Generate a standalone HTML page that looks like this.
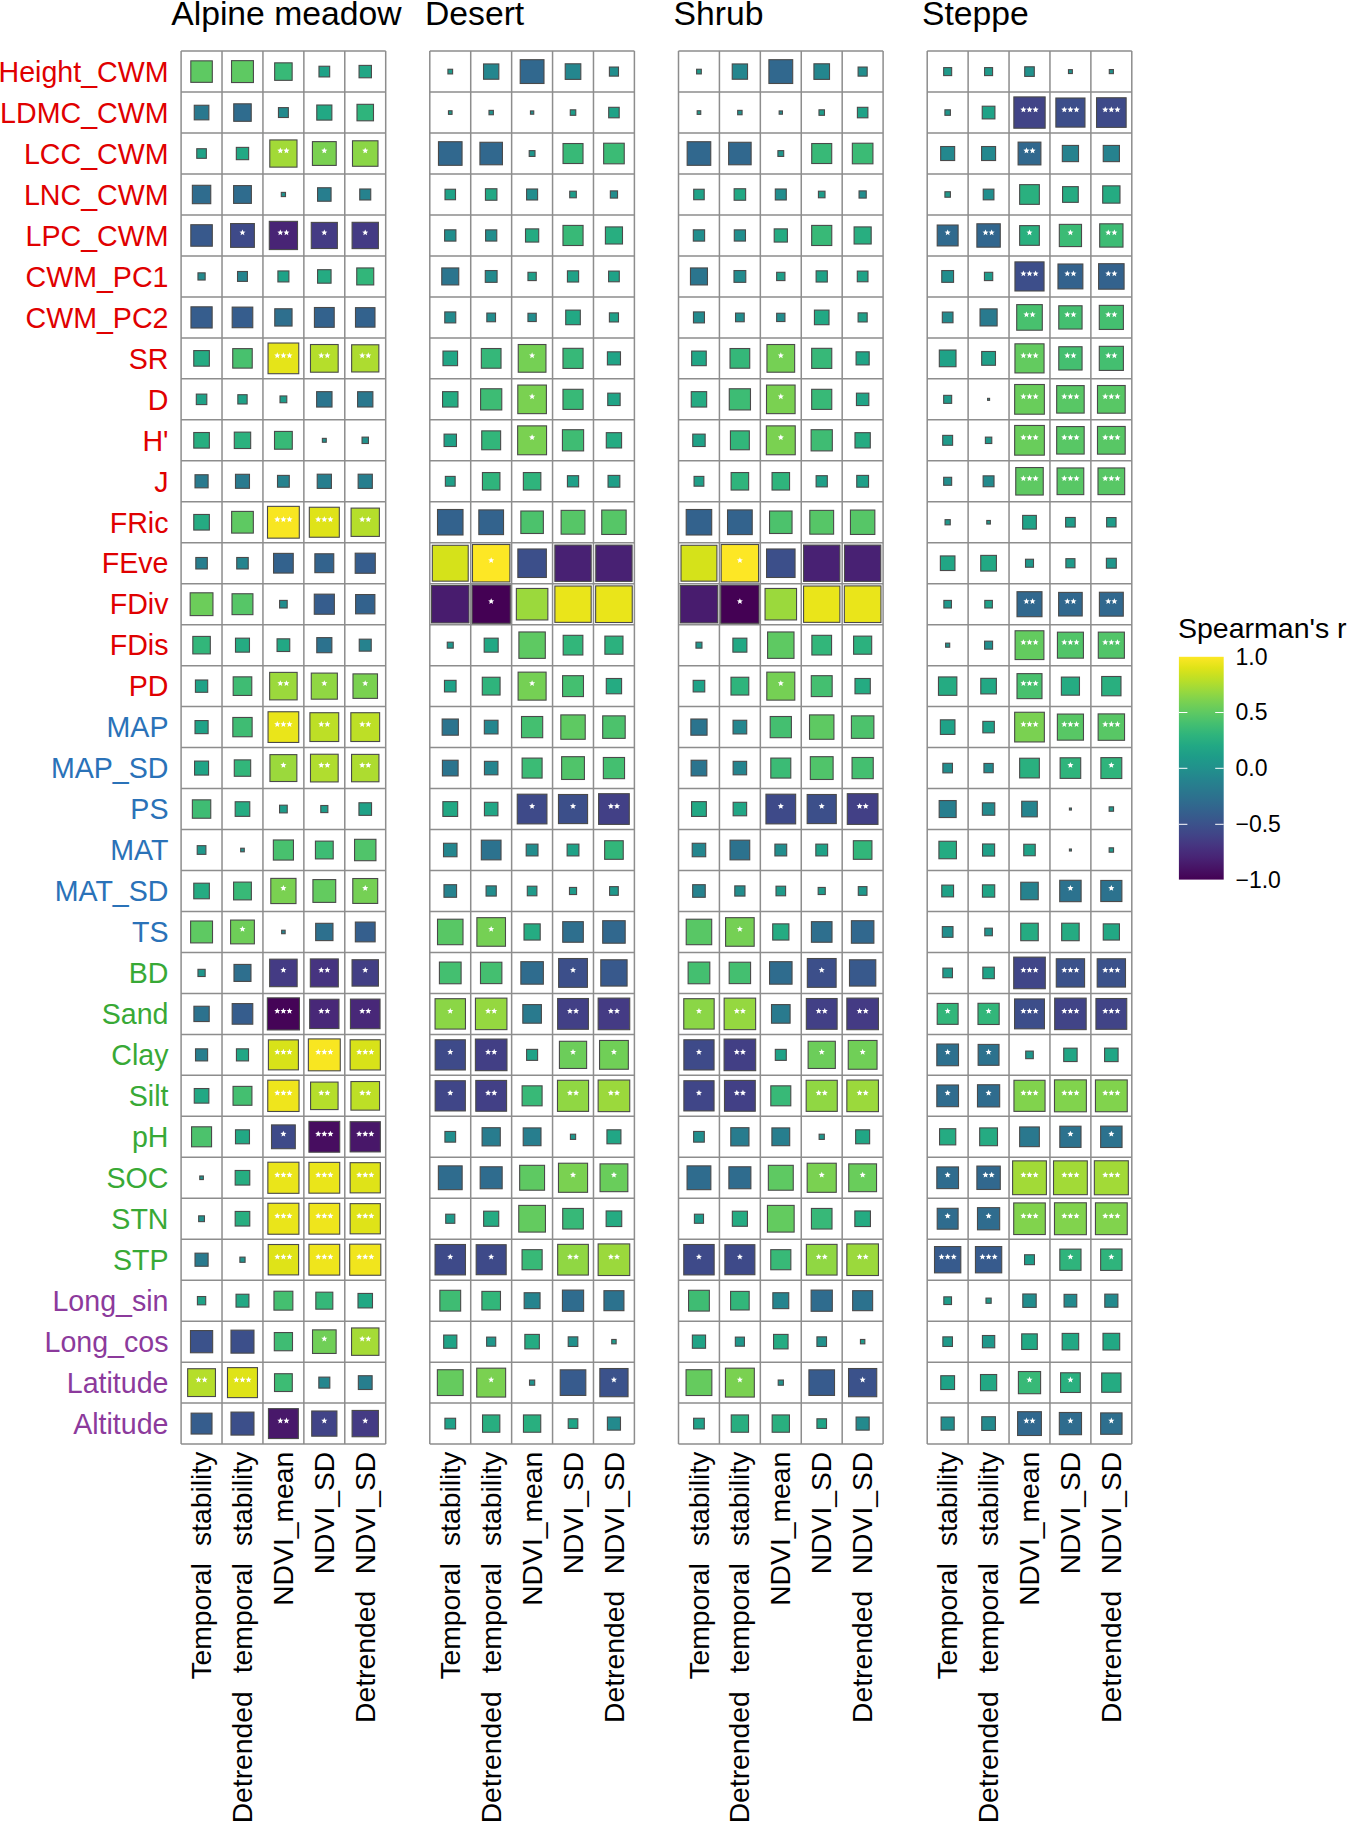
<!DOCTYPE html><html><head><meta charset="utf-8"><style>html,body{margin:0;padding:0;background:#fff;}svg{display:block;}text{font-family:"Liberation Sans",sans-serif;}</style></head><body>
<svg width="1348" height="1822" viewBox="0 0 1348 1822">
<rect width="1348" height="1822" fill="#fff"/>
<defs><linearGradient id="vg" x1="0" y1="1" x2="0" y2="0">
<stop offset="0.000" stop-color="#440154"/>
<stop offset="0.050" stop-color="#471365"/>
<stop offset="0.100" stop-color="#482475"/>
<stop offset="0.150" stop-color="#463480"/>
<stop offset="0.200" stop-color="#414487"/>
<stop offset="0.250" stop-color="#3b528b"/>
<stop offset="0.300" stop-color="#355f8d"/>
<stop offset="0.350" stop-color="#2f6c8e"/>
<stop offset="0.400" stop-color="#2a788e"/>
<stop offset="0.450" stop-color="#25848e"/>
<stop offset="0.500" stop-color="#21918c"/>
<stop offset="0.550" stop-color="#1e9c89"/>
<stop offset="0.600" stop-color="#22a884"/>
<stop offset="0.650" stop-color="#2fb47c"/>
<stop offset="0.700" stop-color="#44bf70"/>
<stop offset="0.750" stop-color="#5ec962"/>
<stop offset="0.800" stop-color="#7ad151"/>
<stop offset="0.850" stop-color="#9bd93c"/>
<stop offset="0.900" stop-color="#bddf26"/>
<stop offset="0.950" stop-color="#dfe318"/>
<stop offset="1.000" stop-color="#fde725"/>
</linearGradient>
<path id="st" d="M0.00,-3.20 L0.85,-1.16 L3.04,-0.99 L1.37,0.44 L1.88,2.59 L0.00,1.44 L-1.88,2.59 L-1.37,0.44 L-3.04,-0.99 L-0.85,-1.16Z" fill="#fff"/>
</defs>
<text x="171.2" y="25" font-size="33.7" fill="#000">Alpine meadow</text>
<text x="425.0" y="25" font-size="33.7" fill="#000">Desert</text>
<text x="673.6" y="25" font-size="33.7" fill="#000">Shrub</text>
<text x="922.0" y="25" font-size="33.7" fill="#000">Steppe</text>
<g font-size="28.6" text-anchor="end">
<text x="168.5" y="81.8" fill="#e00000">Height_CWM</text>
<text x="168.5" y="122.8" fill="#e00000">LDMC_CWM</text>
<text x="168.5" y="163.7" fill="#e00000">LCC_CWM</text>
<text x="168.5" y="204.7" fill="#e00000">LNC_CWM</text>
<text x="168.5" y="245.7" fill="#e00000">LPC_CWM</text>
<text x="168.5" y="286.6" fill="#e00000">CWM_PC1</text>
<text x="168.5" y="327.6" fill="#e00000">CWM_PC2</text>
<text x="168.5" y="368.6" fill="#e00000">SR</text>
<text x="168.5" y="409.5" fill="#e00000">D</text>
<text x="168.5" y="450.5" fill="#e00000">H'</text>
<text x="168.5" y="491.5" fill="#e00000">J</text>
<text x="168.5" y="532.5" fill="#e00000">FRic</text>
<text x="168.5" y="573.4" fill="#e00000">FEve</text>
<text x="168.5" y="614.4" fill="#e00000">FDiv</text>
<text x="168.5" y="655.4" fill="#e00000">FDis</text>
<text x="168.5" y="696.3" fill="#e00000">PD</text>
<text x="168.5" y="737.3" fill="#2a72b8">MAP</text>
<text x="168.5" y="778.3" fill="#2a72b8">MAP_SD</text>
<text x="168.5" y="819.2" fill="#2a72b8">PS</text>
<text x="168.5" y="860.2" fill="#2a72b8">MAT</text>
<text x="168.5" y="901.2" fill="#2a72b8">MAT_SD</text>
<text x="168.5" y="942.2" fill="#2a72b8">TS</text>
<text x="168.5" y="983.1" fill="#38a936">BD</text>
<text x="168.5" y="1024.1" fill="#38a936">Sand</text>
<text x="168.5" y="1065.1" fill="#38a936">Clay</text>
<text x="168.5" y="1106.0" fill="#38a936">Silt</text>
<text x="168.5" y="1147.0" fill="#38a936">pH</text>
<text x="168.5" y="1188.0" fill="#38a936">SOC</text>
<text x="168.5" y="1228.9" fill="#38a936">STN</text>
<text x="168.5" y="1269.9" fill="#38a936">STP</text>
<text x="168.5" y="1310.9" fill="#8c3a9c">Long_sin</text>
<text x="168.5" y="1351.9" fill="#8c3a9c">Long_cos</text>
<text x="168.5" y="1392.8" fill="#8c3a9c">Latitude</text>
<text x="168.5" y="1433.8" fill="#8c3a9c">Altitude</text>
</g>
<path d="M181.10 51.10V1444.08M222.02 51.10V1444.08M262.94 51.10V1444.08M303.86 51.10V1444.08M344.78 51.10V1444.08M385.70 51.10V1444.08M181.10 51.10H385.70M181.10 92.07H385.70M181.10 133.04H385.70M181.10 174.01H385.70M181.10 214.98H385.70M181.10 255.95H385.70M181.10 296.92H385.70M181.10 337.89H385.70M181.10 378.86H385.70M181.10 419.83H385.70M181.10 460.80H385.70M181.10 501.77H385.70M181.10 542.74H385.70M181.10 583.71H385.70M181.10 624.68H385.70M181.10 665.65H385.70M181.10 706.62H385.70M181.10 747.59H385.70M181.10 788.56H385.70M181.10 829.53H385.70M181.10 870.50H385.70M181.10 911.47H385.70M181.10 952.44H385.70M181.10 993.41H385.70M181.10 1034.38H385.70M181.10 1075.35H385.70M181.10 1116.32H385.70M181.10 1157.29H385.70M181.10 1198.26H385.70M181.10 1239.23H385.70M181.10 1280.20H385.70M181.10 1321.17H385.70M181.10 1362.14H385.70M181.10 1403.11H385.70M181.10 1444.08H385.70" stroke="#8d8d8d" stroke-width="1.5" fill="none"/>
<rect x="190.81" y="60.84" width="21.50" height="21.50" fill="#5ec962" stroke="#4a4a4a" stroke-width="1.1"/>
<rect x="231.53" y="60.64" width="21.90" height="21.90" fill="#5ec962" stroke="#4a4a4a" stroke-width="1.1"/>
<rect x="274.65" y="62.84" width="17.50" height="17.50" fill="#38b977" stroke="#4a4a4a" stroke-width="1.1"/>
<rect x="318.97" y="66.24" width="10.70" height="10.70" fill="#1fa287" stroke="#4a4a4a" stroke-width="1.1"/>
<rect x="359.04" y="65.39" width="12.40" height="12.40" fill="#21a685" stroke="#4a4a4a" stroke-width="1.1"/>
<rect x="194.26" y="105.26" width="14.60" height="14.60" fill="#2a788e" stroke="#4a4a4a" stroke-width="1.1"/>
<rect x="233.73" y="103.81" width="17.50" height="17.50" fill="#2f6c8e" stroke="#4a4a4a" stroke-width="1.1"/>
<rect x="278.45" y="107.61" width="9.90" height="9.90" fill="#238a8d" stroke="#4a4a4a" stroke-width="1.1"/>
<rect x="316.77" y="105.01" width="15.10" height="15.10" fill="#22a884" stroke="#4a4a4a" stroke-width="1.1"/>
<rect x="356.99" y="104.31" width="16.50" height="16.50" fill="#2fb47c" stroke="#4a4a4a" stroke-width="1.1"/>
<rect x="196.76" y="148.72" width="9.60" height="9.60" fill="#1fa287" stroke="#4a4a4a" stroke-width="1.1"/>
<rect x="236.33" y="147.38" width="12.30" height="12.30" fill="#22a884" stroke="#4a4a4a" stroke-width="1.1"/>
<rect x="269.80" y="139.93" width="27.20" height="27.20" fill="#a2da37" stroke="#4a4a4a" stroke-width="1.1"/>
<use href="#st" x="280.35" y="150.72"/>
<use href="#st" x="286.45" y="150.72"/>
<rect x="312.42" y="141.62" width="23.80" height="23.80" fill="#7ad151" stroke="#4a4a4a" stroke-width="1.1"/>
<use href="#st" x="324.32" y="150.72"/>
<rect x="352.49" y="140.78" width="25.50" height="25.50" fill="#8bd646" stroke="#4a4a4a" stroke-width="1.1"/>
<use href="#st" x="365.24" y="150.72"/>
<rect x="192.36" y="185.29" width="18.40" height="18.40" fill="#2f6c8e" stroke="#4a4a4a" stroke-width="1.1"/>
<rect x="233.58" y="185.59" width="17.80" height="17.80" fill="#2f6c8e" stroke="#4a4a4a" stroke-width="1.1"/>
<rect x="281.30" y="192.39" width="4.20" height="4.20" fill="#21918c" stroke="#4a4a4a" stroke-width="1.1"/>
<rect x="317.57" y="187.74" width="13.50" height="13.50" fill="#277e8e" stroke="#4a4a4a" stroke-width="1.1"/>
<rect x="359.74" y="188.99" width="11.00" height="11.00" fill="#26828e" stroke="#4a4a4a" stroke-width="1.1"/>
<rect x="190.81" y="224.72" width="21.50" height="21.50" fill="#38598c" stroke="#4a4a4a" stroke-width="1.1"/>
<rect x="230.58" y="223.56" width="23.80" height="23.80" fill="#3e4a89" stroke="#4a4a4a" stroke-width="1.1"/>
<use href="#st" x="242.48" y="232.66"/>
<rect x="269.30" y="221.37" width="28.20" height="28.20" fill="#482475" stroke="#4a4a4a" stroke-width="1.1"/>
<use href="#st" x="280.35" y="232.66"/>
<use href="#st" x="286.45" y="232.66"/>
<rect x="311.27" y="222.41" width="26.10" height="26.10" fill="#443b84" stroke="#4a4a4a" stroke-width="1.1"/>
<use href="#st" x="324.32" y="232.66"/>
<rect x="352.09" y="222.31" width="26.30" height="26.30" fill="#443b84" stroke="#4a4a4a" stroke-width="1.1"/>
<use href="#st" x="365.24" y="232.66"/>
<rect x="197.96" y="272.83" width="7.20" height="7.20" fill="#238a8d" stroke="#4a4a4a" stroke-width="1.1"/>
<rect x="237.53" y="271.49" width="9.90" height="9.90" fill="#25848e" stroke="#4a4a4a" stroke-width="1.1"/>
<rect x="277.90" y="270.94" width="11.00" height="11.00" fill="#1fa287" stroke="#4a4a4a" stroke-width="1.1"/>
<rect x="317.57" y="269.69" width="13.50" height="13.50" fill="#25ab82" stroke="#4a4a4a" stroke-width="1.1"/>
<rect x="356.74" y="267.94" width="17.00" height="17.00" fill="#32b67a" stroke="#4a4a4a" stroke-width="1.1"/>
<rect x="190.96" y="306.81" width="21.20" height="21.20" fill="#365d8d" stroke="#4a4a4a" stroke-width="1.1"/>
<rect x="232.18" y="307.11" width="20.60" height="20.60" fill="#365d8d" stroke="#4a4a4a" stroke-width="1.1"/>
<rect x="274.75" y="308.76" width="17.30" height="17.30" fill="#2e6f8e" stroke="#4a4a4a" stroke-width="1.1"/>
<rect x="314.42" y="307.51" width="19.80" height="19.80" fill="#33628d" stroke="#4a4a4a" stroke-width="1.1"/>
<rect x="355.49" y="307.66" width="19.50" height="19.50" fill="#33628d" stroke="#4a4a4a" stroke-width="1.1"/>
<rect x="193.76" y="350.57" width="15.60" height="15.60" fill="#25ab82" stroke="#4a4a4a" stroke-width="1.1"/>
<rect x="232.73" y="348.62" width="19.50" height="19.50" fill="#48c16e" stroke="#4a4a4a" stroke-width="1.1"/>
<rect x="268.05" y="343.02" width="30.70" height="30.70" fill="#e5e419" stroke="#4a4a4a" stroke-width="1.1"/>
<use href="#st" x="277.30" y="355.57"/>
<use href="#st" x="283.40" y="355.57"/>
<use href="#st" x="289.50" y="355.57"/>
<rect x="310.47" y="344.52" width="27.70" height="27.70" fill="#b5de2b" stroke="#4a4a4a" stroke-width="1.1"/>
<use href="#st" x="321.27" y="355.57"/>
<use href="#st" x="327.37" y="355.57"/>
<rect x="351.64" y="344.77" width="27.20" height="27.20" fill="#addc30" stroke="#4a4a4a" stroke-width="1.1"/>
<use href="#st" x="362.19" y="355.57"/>
<use href="#st" x="368.29" y="355.57"/>
<rect x="196.31" y="394.10" width="10.50" height="10.50" fill="#1fa287" stroke="#4a4a4a" stroke-width="1.1"/>
<rect x="237.83" y="394.70" width="9.30" height="9.30" fill="#1fa287" stroke="#4a4a4a" stroke-width="1.1"/>
<rect x="280.00" y="395.95" width="6.80" height="6.80" fill="#1e9c89" stroke="#4a4a4a" stroke-width="1.1"/>
<rect x="316.62" y="391.65" width="15.40" height="15.40" fill="#2b758e" stroke="#4a4a4a" stroke-width="1.1"/>
<rect x="357.59" y="391.70" width="15.30" height="15.30" fill="#2a788e" stroke="#4a4a4a" stroke-width="1.1"/>
<rect x="193.76" y="432.51" width="15.60" height="15.60" fill="#28ae80" stroke="#4a4a4a" stroke-width="1.1"/>
<rect x="234.28" y="432.12" width="16.40" height="16.40" fill="#2cb17e" stroke="#4a4a4a" stroke-width="1.1"/>
<rect x="274.50" y="431.42" width="17.80" height="17.80" fill="#38b977" stroke="#4a4a4a" stroke-width="1.1"/>
<rect x="322.37" y="438.37" width="3.90" height="3.90" fill="#20928c" stroke="#4a4a4a" stroke-width="1.1"/>
<rect x="362.04" y="437.12" width="6.40" height="6.40" fill="#21918c" stroke="#4a4a4a" stroke-width="1.1"/>
<rect x="195.01" y="474.74" width="13.10" height="13.10" fill="#297a8e" stroke="#4a4a4a" stroke-width="1.1"/>
<rect x="235.48" y="474.29" width="14.00" height="14.00" fill="#297a8e" stroke="#4a4a4a" stroke-width="1.1"/>
<rect x="277.50" y="475.39" width="11.80" height="11.80" fill="#26828e" stroke="#4a4a4a" stroke-width="1.1"/>
<rect x="317.22" y="474.19" width="14.20" height="14.20" fill="#277e8e" stroke="#4a4a4a" stroke-width="1.1"/>
<rect x="358.14" y="474.19" width="14.20" height="14.20" fill="#277e8e" stroke="#4a4a4a" stroke-width="1.1"/>
<rect x="193.76" y="514.46" width="15.60" height="15.60" fill="#25ab82" stroke="#4a4a4a" stroke-width="1.1"/>
<rect x="231.63" y="511.40" width="21.70" height="21.70" fill="#5ec962" stroke="#4a4a4a" stroke-width="1.1"/>
<rect x="267.50" y="506.36" width="31.80" height="31.80" fill="#f8e621" stroke="#4a4a4a" stroke-width="1.1"/>
<use href="#st" x="277.30" y="519.46"/>
<use href="#st" x="283.40" y="519.46"/>
<use href="#st" x="289.50" y="519.46"/>
<rect x="309.32" y="507.25" width="30.00" height="30.00" fill="#dfe318" stroke="#4a4a4a" stroke-width="1.1"/>
<use href="#st" x="318.22" y="519.46"/>
<use href="#st" x="324.32" y="519.46"/>
<use href="#st" x="330.42" y="519.46"/>
<rect x="351.09" y="508.11" width="28.30" height="28.30" fill="#b5de2b" stroke="#4a4a4a" stroke-width="1.1"/>
<use href="#st" x="362.19" y="519.46"/>
<use href="#st" x="368.29" y="519.46"/>
<rect x="195.81" y="557.48" width="11.50" height="11.50" fill="#277e8e" stroke="#4a4a4a" stroke-width="1.1"/>
<rect x="236.73" y="557.48" width="11.50" height="11.50" fill="#25848e" stroke="#4a4a4a" stroke-width="1.1"/>
<rect x="273.55" y="553.38" width="19.70" height="19.70" fill="#33628d" stroke="#4a4a4a" stroke-width="1.1"/>
<rect x="314.87" y="553.77" width="18.90" height="18.90" fill="#33638d" stroke="#4a4a4a" stroke-width="1.1"/>
<rect x="355.19" y="553.18" width="20.10" height="20.10" fill="#365d8d" stroke="#4a4a4a" stroke-width="1.1"/>
<rect x="190.16" y="592.80" width="22.80" height="22.80" fill="#6ccd5a" stroke="#4a4a4a" stroke-width="1.1"/>
<rect x="232.03" y="593.75" width="20.90" height="20.90" fill="#56c667" stroke="#4a4a4a" stroke-width="1.1"/>
<rect x="279.60" y="600.40" width="7.60" height="7.60" fill="#228d8d" stroke="#4a4a4a" stroke-width="1.1"/>
<rect x="314.27" y="594.15" width="20.10" height="20.10" fill="#365d8d" stroke="#4a4a4a" stroke-width="1.1"/>
<rect x="355.59" y="594.55" width="19.30" height="19.30" fill="#33628d" stroke="#4a4a4a" stroke-width="1.1"/>
<rect x="192.81" y="636.41" width="17.50" height="17.50" fill="#32b67a" stroke="#4a4a4a" stroke-width="1.1"/>
<rect x="235.48" y="638.16" width="14.00" height="14.00" fill="#25ab82" stroke="#4a4a4a" stroke-width="1.1"/>
<rect x="277.05" y="638.81" width="12.70" height="12.70" fill="#22a884" stroke="#4a4a4a" stroke-width="1.1"/>
<rect x="316.77" y="637.62" width="15.10" height="15.10" fill="#2c728e" stroke="#4a4a4a" stroke-width="1.1"/>
<rect x="359.24" y="639.16" width="12.00" height="12.00" fill="#26828e" stroke="#4a4a4a" stroke-width="1.1"/>
<rect x="195.41" y="679.99" width="12.30" height="12.30" fill="#1fa287" stroke="#4a4a4a" stroke-width="1.1"/>
<rect x="233.18" y="676.84" width="18.60" height="18.60" fill="#3fbc73" stroke="#4a4a4a" stroke-width="1.1"/>
<rect x="269.65" y="672.38" width="27.50" height="27.50" fill="#9bd93c" stroke="#4a4a4a" stroke-width="1.1"/>
<use href="#st" x="280.35" y="683.34"/>
<use href="#st" x="286.45" y="683.34"/>
<rect x="311.27" y="673.09" width="26.10" height="26.10" fill="#90d743" stroke="#4a4a4a" stroke-width="1.1"/>
<use href="#st" x="324.32" y="683.34"/>
<rect x="352.99" y="673.88" width="24.50" height="24.50" fill="#7ad151" stroke="#4a4a4a" stroke-width="1.1"/>
<use href="#st" x="365.24" y="683.34"/>
<rect x="195.01" y="720.56" width="13.10" height="13.10" fill="#1fa287" stroke="#4a4a4a" stroke-width="1.1"/>
<rect x="232.83" y="717.46" width="19.30" height="19.30" fill="#3fbc73" stroke="#4a4a4a" stroke-width="1.1"/>
<rect x="268.05" y="711.75" width="30.70" height="30.70" fill="#eae51a" stroke="#4a4a4a" stroke-width="1.1"/>
<use href="#st" x="277.30" y="724.31"/>
<use href="#st" x="283.40" y="724.31"/>
<use href="#st" x="289.50" y="724.31"/>
<rect x="309.92" y="712.71" width="28.80" height="28.80" fill="#bddf26" stroke="#4a4a4a" stroke-width="1.1"/>
<use href="#st" x="321.27" y="724.31"/>
<use href="#st" x="327.37" y="724.31"/>
<rect x="350.84" y="712.71" width="28.80" height="28.80" fill="#bddf26" stroke="#4a4a4a" stroke-width="1.1"/>
<use href="#st" x="362.19" y="724.31"/>
<use href="#st" x="368.29" y="724.31"/>
<rect x="194.56" y="761.08" width="14.00" height="14.00" fill="#20a486" stroke="#4a4a4a" stroke-width="1.1"/>
<rect x="234.28" y="759.88" width="16.40" height="16.40" fill="#32b67a" stroke="#4a4a4a" stroke-width="1.1"/>
<rect x="269.95" y="754.62" width="26.90" height="26.90" fill="#9bd93c" stroke="#4a4a4a" stroke-width="1.1"/>
<use href="#st" x="283.40" y="765.28"/>
<rect x="310.47" y="754.23" width="27.70" height="27.70" fill="#b0dd2f" stroke="#4a4a4a" stroke-width="1.1"/>
<use href="#st" x="321.27" y="765.28"/>
<use href="#st" x="327.37" y="765.28"/>
<rect x="351.54" y="754.38" width="27.40" height="27.40" fill="#addc30" stroke="#4a4a4a" stroke-width="1.1"/>
<use href="#st" x="362.19" y="765.28"/>
<use href="#st" x="368.29" y="765.28"/>
<rect x="192.36" y="799.84" width="18.40" height="18.40" fill="#3fbc73" stroke="#4a4a4a" stroke-width="1.1"/>
<rect x="235.18" y="801.75" width="14.60" height="14.60" fill="#25ac82" stroke="#4a4a4a" stroke-width="1.1"/>
<rect x="279.55" y="805.19" width="7.70" height="7.70" fill="#1e9c89" stroke="#4a4a4a" stroke-width="1.1"/>
<rect x="320.77" y="805.50" width="7.10" height="7.10" fill="#1e9c89" stroke="#4a4a4a" stroke-width="1.1"/>
<rect x="358.94" y="802.75" width="12.60" height="12.60" fill="#1fa287" stroke="#4a4a4a" stroke-width="1.1"/>
<rect x="197.21" y="845.66" width="8.70" height="8.70" fill="#1f988b" stroke="#4a4a4a" stroke-width="1.1"/>
<rect x="240.68" y="848.22" width="3.60" height="3.60" fill="#21918c" stroke="#4a4a4a" stroke-width="1.1"/>
<rect x="273.35" y="839.97" width="20.10" height="20.10" fill="#48c16e" stroke="#4a4a4a" stroke-width="1.1"/>
<rect x="315.42" y="841.12" width="17.80" height="17.80" fill="#3dbc74" stroke="#4a4a4a" stroke-width="1.1"/>
<rect x="354.54" y="839.31" width="21.40" height="21.40" fill="#50c46a" stroke="#4a4a4a" stroke-width="1.1"/>
<rect x="193.76" y="883.19" width="15.60" height="15.60" fill="#25ab82" stroke="#4a4a4a" stroke-width="1.1"/>
<rect x="233.58" y="882.09" width="17.80" height="17.80" fill="#38b977" stroke="#4a4a4a" stroke-width="1.1"/>
<rect x="270.80" y="878.38" width="25.20" height="25.20" fill="#7ad151" stroke="#4a4a4a" stroke-width="1.1"/>
<use href="#st" x="283.40" y="888.19"/>
<rect x="312.92" y="879.59" width="22.80" height="22.80" fill="#63cb5f" stroke="#4a4a4a" stroke-width="1.1"/>
<rect x="352.79" y="878.53" width="24.90" height="24.90" fill="#75d054" stroke="#4a4a4a" stroke-width="1.1"/>
<use href="#st" x="365.24" y="888.19"/>
<rect x="190.61" y="921.00" width="21.90" height="21.90" fill="#5ec962" stroke="#4a4a4a" stroke-width="1.1"/>
<rect x="230.58" y="920.06" width="23.80" height="23.80" fill="#6ece58" stroke="#4a4a4a" stroke-width="1.1"/>
<use href="#st" x="242.48" y="929.16"/>
<rect x="281.65" y="930.21" width="3.50" height="3.50" fill="#25848e" stroke="#4a4a4a" stroke-width="1.1"/>
<rect x="315.67" y="923.31" width="17.30" height="17.30" fill="#2d708e" stroke="#4a4a4a" stroke-width="1.1"/>
<rect x="355.34" y="922.06" width="19.80" height="19.80" fill="#355f8d" stroke="#4a4a4a" stroke-width="1.1"/>
<rect x="197.96" y="969.32" width="7.20" height="7.20" fill="#1f968b" stroke="#4a4a4a" stroke-width="1.1"/>
<rect x="233.98" y="964.42" width="17.00" height="17.00" fill="#2e6f8e" stroke="#4a4a4a" stroke-width="1.1"/>
<rect x="269.65" y="959.17" width="27.50" height="27.50" fill="#443b84" stroke="#4a4a4a" stroke-width="1.1"/>
<use href="#st" x="283.40" y="970.12"/>
<rect x="310.32" y="958.92" width="28.00" height="28.00" fill="#463480" stroke="#4a4a4a" stroke-width="1.1"/>
<use href="#st" x="321.27" y="970.12"/>
<use href="#st" x="327.37" y="970.12"/>
<rect x="352.04" y="959.72" width="26.40" height="26.40" fill="#423f85" stroke="#4a4a4a" stroke-width="1.1"/>
<use href="#st" x="365.24" y="970.12"/>
<rect x="193.91" y="1006.25" width="15.30" height="15.30" fill="#2c728e" stroke="#4a4a4a" stroke-width="1.1"/>
<rect x="232.18" y="1003.60" width="20.60" height="20.60" fill="#365d8d" stroke="#4a4a4a" stroke-width="1.1"/>
<rect x="267.35" y="997.85" width="32.10" height="32.10" fill="#450457" stroke="#4a4a4a" stroke-width="1.1"/>
<use href="#st" x="277.30" y="1011.10"/>
<use href="#st" x="283.40" y="1011.10"/>
<use href="#st" x="289.50" y="1011.10"/>
<rect x="309.67" y="999.25" width="29.30" height="29.30" fill="#482878" stroke="#4a4a4a" stroke-width="1.1"/>
<use href="#st" x="321.27" y="1011.10"/>
<use href="#st" x="327.37" y="1011.10"/>
<rect x="350.44" y="999.10" width="29.60" height="29.60" fill="#482878" stroke="#4a4a4a" stroke-width="1.1"/>
<use href="#st" x="362.19" y="1011.10"/>
<use href="#st" x="368.29" y="1011.10"/>
<rect x="195.51" y="1048.82" width="12.10" height="12.10" fill="#277e8e" stroke="#4a4a4a" stroke-width="1.1"/>
<rect x="236.43" y="1048.82" width="12.10" height="12.10" fill="#21a685" stroke="#4a4a4a" stroke-width="1.1"/>
<rect x="268.40" y="1039.87" width="30.00" height="30.00" fill="#d8e219" stroke="#4a4a4a" stroke-width="1.1"/>
<use href="#st" x="277.30" y="1052.07"/>
<use href="#st" x="283.40" y="1052.07"/>
<use href="#st" x="289.50" y="1052.07"/>
<rect x="308.37" y="1038.91" width="31.90" height="31.90" fill="#f8e621" stroke="#4a4a4a" stroke-width="1.1"/>
<use href="#st" x="318.22" y="1052.07"/>
<use href="#st" x="324.32" y="1052.07"/>
<use href="#st" x="330.42" y="1052.07"/>
<rect x="350.14" y="1039.77" width="30.20" height="30.20" fill="#d8e219" stroke="#4a4a4a" stroke-width="1.1"/>
<use href="#st" x="359.14" y="1052.07"/>
<use href="#st" x="365.24" y="1052.07"/>
<use href="#st" x="371.34" y="1052.07"/>
<rect x="194.26" y="1088.53" width="14.60" height="14.60" fill="#22a884" stroke="#4a4a4a" stroke-width="1.1"/>
<rect x="233.03" y="1086.38" width="18.90" height="18.90" fill="#44bf70" stroke="#4a4a4a" stroke-width="1.1"/>
<rect x="267.75" y="1080.18" width="31.30" height="31.30" fill="#efe51c" stroke="#4a4a4a" stroke-width="1.1"/>
<use href="#st" x="277.30" y="1093.03"/>
<use href="#st" x="283.40" y="1093.03"/>
<use href="#st" x="289.50" y="1093.03"/>
<rect x="310.57" y="1082.08" width="27.50" height="27.50" fill="#b5de2b" stroke="#4a4a4a" stroke-width="1.1"/>
<use href="#st" x="321.27" y="1093.03"/>
<use href="#st" x="327.37" y="1093.03"/>
<rect x="350.94" y="1081.53" width="28.60" height="28.60" fill="#bddf26" stroke="#4a4a4a" stroke-width="1.1"/>
<use href="#st" x="362.19" y="1093.03"/>
<use href="#st" x="368.29" y="1093.03"/>
<rect x="191.56" y="1126.80" width="20.00" height="20.00" fill="#4cc26c" stroke="#4a4a4a" stroke-width="1.1"/>
<rect x="235.48" y="1129.80" width="14.00" height="14.00" fill="#22a884" stroke="#4a4a4a" stroke-width="1.1"/>
<rect x="271.50" y="1124.90" width="23.80" height="23.80" fill="#3e4a89" stroke="#4a4a4a" stroke-width="1.1"/>
<use href="#st" x="283.40" y="1134.00"/>
<rect x="308.92" y="1121.40" width="30.80" height="30.80" fill="#470d60" stroke="#4a4a4a" stroke-width="1.1"/>
<use href="#st" x="318.22" y="1134.00"/>
<use href="#st" x="324.32" y="1134.00"/>
<use href="#st" x="330.42" y="1134.00"/>
<rect x="350.14" y="1121.70" width="30.20" height="30.20" fill="#481769" stroke="#4a4a4a" stroke-width="1.1"/>
<use href="#st" x="359.14" y="1134.00"/>
<use href="#st" x="365.24" y="1134.00"/>
<use href="#st" x="371.34" y="1134.00"/>
<rect x="199.76" y="1175.97" width="3.60" height="3.60" fill="#20928c" stroke="#4a4a4a" stroke-width="1.1"/>
<rect x="235.18" y="1170.47" width="14.60" height="14.60" fill="#26ad81" stroke="#4a4a4a" stroke-width="1.1"/>
<rect x="267.85" y="1162.22" width="31.10" height="31.10" fill="#eae51a" stroke="#4a4a4a" stroke-width="1.1"/>
<use href="#st" x="277.30" y="1174.97"/>
<use href="#st" x="283.40" y="1174.97"/>
<use href="#st" x="289.50" y="1174.97"/>
<rect x="308.92" y="1162.37" width="30.80" height="30.80" fill="#eae51a" stroke="#4a4a4a" stroke-width="1.1"/>
<use href="#st" x="318.22" y="1174.97"/>
<use href="#st" x="324.32" y="1174.97"/>
<use href="#st" x="330.42" y="1174.97"/>
<rect x="350.14" y="1162.67" width="30.20" height="30.20" fill="#dfe318" stroke="#4a4a4a" stroke-width="1.1"/>
<use href="#st" x="359.14" y="1174.97"/>
<use href="#st" x="365.24" y="1174.97"/>
<use href="#st" x="371.34" y="1174.97"/>
<rect x="198.66" y="1215.84" width="5.80" height="5.80" fill="#21918c" stroke="#4a4a4a" stroke-width="1.1"/>
<rect x="235.18" y="1211.44" width="14.60" height="14.60" fill="#28ae80" stroke="#4a4a4a" stroke-width="1.1"/>
<rect x="267.90" y="1203.24" width="31.00" height="31.00" fill="#eae51a" stroke="#4a4a4a" stroke-width="1.1"/>
<use href="#st" x="277.30" y="1215.94"/>
<use href="#st" x="283.40" y="1215.94"/>
<use href="#st" x="289.50" y="1215.94"/>
<rect x="308.92" y="1203.34" width="30.80" height="30.80" fill="#efe51c" stroke="#4a4a4a" stroke-width="1.1"/>
<use href="#st" x="318.22" y="1215.94"/>
<use href="#st" x="324.32" y="1215.94"/>
<use href="#st" x="330.42" y="1215.94"/>
<rect x="350.14" y="1203.64" width="30.20" height="30.20" fill="#dfe318" stroke="#4a4a4a" stroke-width="1.1"/>
<use href="#st" x="359.14" y="1215.94"/>
<use href="#st" x="365.24" y="1215.94"/>
<use href="#st" x="371.34" y="1215.94"/>
<rect x="195.01" y="1253.16" width="13.10" height="13.10" fill="#297a8e" stroke="#4a4a4a" stroke-width="1.1"/>
<rect x="239.88" y="1257.12" width="5.20" height="5.20" fill="#20938c" stroke="#4a4a4a" stroke-width="1.1"/>
<rect x="268.20" y="1244.51" width="30.40" height="30.40" fill="#dfe318" stroke="#4a4a4a" stroke-width="1.1"/>
<use href="#st" x="277.30" y="1256.91"/>
<use href="#st" x="283.40" y="1256.91"/>
<use href="#st" x="289.50" y="1256.91"/>
<rect x="308.92" y="1244.31" width="30.80" height="30.80" fill="#efe51c" stroke="#4a4a4a" stroke-width="1.1"/>
<use href="#st" x="318.22" y="1256.91"/>
<use href="#st" x="324.32" y="1256.91"/>
<use href="#st" x="330.42" y="1256.91"/>
<rect x="349.69" y="1244.16" width="31.10" height="31.10" fill="#f1e51d" stroke="#4a4a4a" stroke-width="1.1"/>
<use href="#st" x="359.14" y="1256.91"/>
<use href="#st" x="365.24" y="1256.91"/>
<use href="#st" x="371.34" y="1256.91"/>
<rect x="197.41" y="1296.53" width="8.30" height="8.30" fill="#1fa287" stroke="#4a4a4a" stroke-width="1.1"/>
<rect x="236.03" y="1294.23" width="12.90" height="12.90" fill="#22a884" stroke="#4a4a4a" stroke-width="1.1"/>
<rect x="273.95" y="1291.23" width="18.90" height="18.90" fill="#44bf70" stroke="#4a4a4a" stroke-width="1.1"/>
<rect x="315.82" y="1292.18" width="17.00" height="17.00" fill="#35b779" stroke="#4a4a4a" stroke-width="1.1"/>
<rect x="357.99" y="1293.43" width="14.50" height="14.50" fill="#22a884" stroke="#4a4a4a" stroke-width="1.1"/>
<rect x="190.46" y="1330.56" width="22.20" height="22.20" fill="#3b528b" stroke="#4a4a4a" stroke-width="1.1"/>
<rect x="230.98" y="1330.15" width="23.00" height="23.00" fill="#3c4f8a" stroke="#4a4a4a" stroke-width="1.1"/>
<rect x="274.30" y="1332.56" width="18.20" height="18.20" fill="#3fbc73" stroke="#4a4a4a" stroke-width="1.1"/>
<rect x="312.52" y="1329.86" width="23.60" height="23.60" fill="#70cf57" stroke="#4a4a4a" stroke-width="1.1"/>
<use href="#st" x="324.32" y="1338.86"/>
<rect x="351.54" y="1327.95" width="27.40" height="27.40" fill="#a5db36" stroke="#4a4a4a" stroke-width="1.1"/>
<use href="#st" x="362.19" y="1338.86"/>
<use href="#st" x="368.29" y="1338.86"/>
<rect x="187.66" y="1368.72" width="27.80" height="27.80" fill="#b5de2b" stroke="#4a4a4a" stroke-width="1.1"/>
<use href="#st" x="198.51" y="1379.82"/>
<use href="#st" x="204.61" y="1379.82"/>
<rect x="227.48" y="1367.62" width="30.00" height="30.00" fill="#dfe318" stroke="#4a4a4a" stroke-width="1.1"/>
<use href="#st" x="236.38" y="1379.82"/>
<use href="#st" x="242.48" y="1379.82"/>
<use href="#st" x="248.58" y="1379.82"/>
<rect x="274.50" y="1373.72" width="17.80" height="17.80" fill="#3dbc74" stroke="#4a4a4a" stroke-width="1.1"/>
<rect x="318.82" y="1377.12" width="11.00" height="11.00" fill="#24868e" stroke="#4a4a4a" stroke-width="1.1"/>
<rect x="358.34" y="1375.72" width="13.80" height="13.80" fill="#277e8e" stroke="#4a4a4a" stroke-width="1.1"/>
<rect x="191.11" y="1413.14" width="20.90" height="20.90" fill="#365d8d" stroke="#4a4a4a" stroke-width="1.1"/>
<rect x="230.98" y="1412.09" width="23.00" height="23.00" fill="#3c4f8a" stroke="#4a4a4a" stroke-width="1.1"/>
<rect x="268.45" y="1408.64" width="29.90" height="29.90" fill="#48186a" stroke="#4a4a4a" stroke-width="1.1"/>
<use href="#st" x="280.35" y="1420.79"/>
<use href="#st" x="286.45" y="1420.79"/>
<rect x="311.72" y="1410.99" width="25.20" height="25.20" fill="#414487" stroke="#4a4a4a" stroke-width="1.1"/>
<use href="#st" x="324.32" y="1420.79"/>
<rect x="352.09" y="1410.44" width="26.30" height="26.30" fill="#443b84" stroke="#4a4a4a" stroke-width="1.1"/>
<use href="#st" x="365.24" y="1420.79"/>
<path d="M429.80 51.10V1444.08M470.72 51.10V1444.08M511.64 51.10V1444.08M552.56 51.10V1444.08M593.48 51.10V1444.08M634.40 51.10V1444.08M429.80 51.10H634.40M429.80 92.07H634.40M429.80 133.04H634.40M429.80 174.01H634.40M429.80 214.98H634.40M429.80 255.95H634.40M429.80 296.92H634.40M429.80 337.89H634.40M429.80 378.86H634.40M429.80 419.83H634.40M429.80 460.80H634.40M429.80 501.77H634.40M429.80 542.74H634.40M429.80 583.71H634.40M429.80 624.68H634.40M429.80 665.65H634.40M429.80 706.62H634.40M429.80 747.59H634.40M429.80 788.56H634.40M429.80 829.53H634.40M429.80 870.50H634.40M429.80 911.47H634.40M429.80 952.44H634.40M429.80 993.41H634.40M429.80 1034.38H634.40M429.80 1075.35H634.40M429.80 1116.32H634.40M429.80 1157.29H634.40M429.80 1198.26H634.40M429.80 1239.23H634.40M429.80 1280.20H634.40M429.80 1321.17H634.40M429.80 1362.14H634.40M429.80 1403.11H634.40M429.80 1444.08H634.40" stroke="#8d8d8d" stroke-width="1.5" fill="none"/>
<rect x="447.91" y="69.24" width="4.70" height="4.70" fill="#1f9a8a" stroke="#4a4a4a" stroke-width="1.1"/>
<rect x="483.53" y="63.94" width="15.30" height="15.30" fill="#24868e" stroke="#4a4a4a" stroke-width="1.1"/>
<rect x="520.20" y="59.69" width="23.80" height="23.80" fill="#31688e" stroke="#4a4a4a" stroke-width="1.1"/>
<rect x="565.22" y="63.79" width="15.60" height="15.60" fill="#24868e" stroke="#4a4a4a" stroke-width="1.1"/>
<rect x="609.39" y="67.04" width="9.10" height="9.10" fill="#218e8d" stroke="#4a4a4a" stroke-width="1.1"/>
<rect x="448.46" y="110.76" width="3.60" height="3.60" fill="#1f9a8a" stroke="#4a4a4a" stroke-width="1.1"/>
<rect x="488.98" y="110.36" width="4.40" height="4.40" fill="#21918c" stroke="#4a4a4a" stroke-width="1.1"/>
<rect x="530.45" y="110.91" width="3.30" height="3.30" fill="#218e8d" stroke="#4a4a4a" stroke-width="1.1"/>
<rect x="570.27" y="109.81" width="5.50" height="5.50" fill="#1e9c89" stroke="#4a4a4a" stroke-width="1.1"/>
<rect x="608.69" y="107.31" width="10.50" height="10.50" fill="#1fa287" stroke="#4a4a4a" stroke-width="1.1"/>
<rect x="438.46" y="141.72" width="23.60" height="23.60" fill="#31688e" stroke="#4a4a4a" stroke-width="1.1"/>
<rect x="479.93" y="142.28" width="22.50" height="22.50" fill="#31688e" stroke="#4a4a4a" stroke-width="1.1"/>
<rect x="529.20" y="150.62" width="5.80" height="5.80" fill="#1f968b" stroke="#4a4a4a" stroke-width="1.1"/>
<rect x="563.02" y="143.53" width="20.00" height="20.00" fill="#38b977" stroke="#4a4a4a" stroke-width="1.1"/>
<rect x="603.64" y="143.22" width="20.60" height="20.60" fill="#3bbb75" stroke="#4a4a4a" stroke-width="1.1"/>
<rect x="445.01" y="189.24" width="10.50" height="10.50" fill="#1fa287" stroke="#4a4a4a" stroke-width="1.1"/>
<rect x="485.43" y="188.74" width="11.50" height="11.50" fill="#22a884" stroke="#4a4a4a" stroke-width="1.1"/>
<rect x="526.60" y="188.99" width="11.00" height="11.00" fill="#228d8d" stroke="#4a4a4a" stroke-width="1.1"/>
<rect x="569.72" y="191.19" width="6.60" height="6.60" fill="#1e9c89" stroke="#4a4a4a" stroke-width="1.1"/>
<rect x="610.34" y="190.89" width="7.20" height="7.20" fill="#228d8d" stroke="#4a4a4a" stroke-width="1.1"/>
<rect x="444.61" y="229.81" width="11.30" height="11.30" fill="#218e8d" stroke="#4a4a4a" stroke-width="1.1"/>
<rect x="485.58" y="229.87" width="11.20" height="11.20" fill="#218e8d" stroke="#4a4a4a" stroke-width="1.1"/>
<rect x="525.50" y="228.87" width="13.20" height="13.20" fill="#25ab82" stroke="#4a4a4a" stroke-width="1.1"/>
<rect x="562.97" y="225.41" width="20.10" height="20.10" fill="#38b977" stroke="#4a4a4a" stroke-width="1.1"/>
<rect x="605.39" y="226.91" width="17.10" height="17.10" fill="#28ae80" stroke="#4a4a4a" stroke-width="1.1"/>
<rect x="441.76" y="267.94" width="17.00" height="17.00" fill="#2b758e" stroke="#4a4a4a" stroke-width="1.1"/>
<rect x="485.28" y="270.54" width="11.80" height="11.80" fill="#238a8d" stroke="#4a4a4a" stroke-width="1.1"/>
<rect x="527.95" y="272.29" width="8.30" height="8.30" fill="#1f9f88" stroke="#4a4a4a" stroke-width="1.1"/>
<rect x="567.42" y="270.83" width="11.20" height="11.20" fill="#1fa287" stroke="#4a4a4a" stroke-width="1.1"/>
<rect x="608.59" y="271.08" width="10.70" height="10.70" fill="#1fa287" stroke="#4a4a4a" stroke-width="1.1"/>
<rect x="444.76" y="311.91" width="11.00" height="11.00" fill="#238a8d" stroke="#4a4a4a" stroke-width="1.1"/>
<rect x="486.83" y="313.06" width="8.70" height="8.70" fill="#228d8d" stroke="#4a4a4a" stroke-width="1.1"/>
<rect x="527.95" y="313.26" width="8.30" height="8.30" fill="#228d8d" stroke="#4a4a4a" stroke-width="1.1"/>
<rect x="565.72" y="310.11" width="14.60" height="14.60" fill="#22a884" stroke="#4a4a4a" stroke-width="1.1"/>
<rect x="609.39" y="312.86" width="9.10" height="9.10" fill="#1fa088" stroke="#4a4a4a" stroke-width="1.1"/>
<rect x="442.96" y="351.07" width="14.60" height="14.60" fill="#21a685" stroke="#4a4a4a" stroke-width="1.1"/>
<rect x="481.33" y="348.52" width="19.70" height="19.70" fill="#35b779" stroke="#4a4a4a" stroke-width="1.1"/>
<rect x="518.25" y="344.52" width="27.70" height="27.70" fill="#75d054" stroke="#4a4a4a" stroke-width="1.1"/>
<use href="#st" x="532.10" y="355.57"/>
<rect x="562.97" y="348.32" width="20.10" height="20.10" fill="#37b878" stroke="#4a4a4a" stroke-width="1.1"/>
<rect x="607.39" y="351.82" width="13.10" height="13.10" fill="#20a486" stroke="#4a4a4a" stroke-width="1.1"/>
<rect x="442.56" y="391.65" width="15.40" height="15.40" fill="#25ab82" stroke="#4a4a4a" stroke-width="1.1"/>
<rect x="480.58" y="388.75" width="21.20" height="21.20" fill="#3dbc74" stroke="#4a4a4a" stroke-width="1.1"/>
<rect x="517.80" y="385.05" width="28.60" height="28.60" fill="#7ad151" stroke="#4a4a4a" stroke-width="1.1"/>
<use href="#st" x="532.10" y="396.55"/>
<rect x="562.97" y="389.30" width="20.10" height="20.10" fill="#38b977" stroke="#4a4a4a" stroke-width="1.1"/>
<rect x="607.74" y="393.15" width="12.40" height="12.40" fill="#20a486" stroke="#4a4a4a" stroke-width="1.1"/>
<rect x="444.06" y="434.12" width="12.40" height="12.40" fill="#1fa287" stroke="#4a4a4a" stroke-width="1.1"/>
<rect x="481.73" y="430.87" width="18.90" height="18.90" fill="#32b67a" stroke="#4a4a4a" stroke-width="1.1"/>
<rect x="517.65" y="425.87" width="28.90" height="28.90" fill="#7ad151" stroke="#4a4a4a" stroke-width="1.1"/>
<use href="#st" x="532.10" y="437.51"/>
<rect x="562.42" y="429.71" width="21.20" height="21.20" fill="#3fbc73" stroke="#4a4a4a" stroke-width="1.1"/>
<rect x="606.29" y="432.67" width="15.30" height="15.30" fill="#25ab82" stroke="#4a4a4a" stroke-width="1.1"/>
<rect x="445.36" y="476.39" width="9.80" height="9.80" fill="#1f9f88" stroke="#4a4a4a" stroke-width="1.1"/>
<rect x="482.43" y="472.54" width="17.50" height="17.50" fill="#2fb47c" stroke="#4a4a4a" stroke-width="1.1"/>
<rect x="523.35" y="472.54" width="17.50" height="17.50" fill="#2fb47c" stroke="#4a4a4a" stroke-width="1.1"/>
<rect x="567.42" y="475.69" width="11.20" height="11.20" fill="#1fa088" stroke="#4a4a4a" stroke-width="1.1"/>
<rect x="608.04" y="475.39" width="11.80" height="11.80" fill="#1f9f88" stroke="#4a4a4a" stroke-width="1.1"/>
<rect x="437.51" y="509.50" width="25.50" height="25.50" fill="#33628d" stroke="#4a4a4a" stroke-width="1.1"/>
<rect x="478.83" y="509.90" width="24.70" height="24.70" fill="#33638d" stroke="#4a4a4a" stroke-width="1.1"/>
<rect x="520.85" y="511.00" width="22.50" height="22.50" fill="#4cc26c" stroke="#4a4a4a" stroke-width="1.1"/>
<rect x="561.12" y="510.36" width="23.80" height="23.80" fill="#56c667" stroke="#4a4a4a" stroke-width="1.1"/>
<rect x="601.74" y="510.06" width="24.40" height="24.40" fill="#56c667" stroke="#4a4a4a" stroke-width="1.1"/>
<rect x="432.31" y="545.27" width="35.90" height="35.90" fill="#d5e21a" stroke="#4a4a4a" stroke-width="1.1"/>
<rect x="472.48" y="544.52" width="37.40" height="37.40" fill="#fde725" stroke="#4a4a4a" stroke-width="1.1"/>
<use href="#st" x="491.18" y="560.43"/>
<rect x="517.85" y="548.98" width="28.50" height="28.50" fill="#3c4f8a" stroke="#4a4a4a" stroke-width="1.1"/>
<rect x="554.87" y="545.08" width="36.30" height="36.30" fill="#482173" stroke="#4a4a4a" stroke-width="1.1"/>
<rect x="595.79" y="545.08" width="36.30" height="36.30" fill="#482173" stroke="#4a4a4a" stroke-width="1.1"/>
<rect x="431.56" y="585.50" width="37.40" height="37.40" fill="#481c6e" stroke="#4a4a4a" stroke-width="1.1"/>
<rect x="472.08" y="585.10" width="38.20" height="38.20" fill="#440154" stroke="#4a4a4a" stroke-width="1.1"/>
<use href="#st" x="491.18" y="601.40"/>
<rect x="516.35" y="588.45" width="31.50" height="31.50" fill="#9bd93c" stroke="#4a4a4a" stroke-width="1.1"/>
<rect x="554.87" y="586.05" width="36.30" height="36.30" fill="#eae51a" stroke="#4a4a4a" stroke-width="1.1"/>
<rect x="595.64" y="585.90" width="36.60" height="36.60" fill="#eae51a" stroke="#4a4a4a" stroke-width="1.1"/>
<rect x="447.26" y="642.16" width="6.00" height="6.00" fill="#1f968b" stroke="#4a4a4a" stroke-width="1.1"/>
<rect x="484.18" y="638.16" width="14.00" height="14.00" fill="#22a884" stroke="#4a4a4a" stroke-width="1.1"/>
<rect x="518.90" y="631.96" width="26.40" height="26.40" fill="#5ec962" stroke="#4a4a4a" stroke-width="1.1"/>
<rect x="563.17" y="635.31" width="19.70" height="19.70" fill="#32b67a" stroke="#4a4a4a" stroke-width="1.1"/>
<rect x="604.89" y="636.12" width="18.10" height="18.10" fill="#2cb17e" stroke="#4a4a4a" stroke-width="1.1"/>
<rect x="444.46" y="680.34" width="11.60" height="11.60" fill="#1fa287" stroke="#4a4a4a" stroke-width="1.1"/>
<rect x="482.28" y="677.24" width="17.80" height="17.80" fill="#2fb47c" stroke="#4a4a4a" stroke-width="1.1"/>
<rect x="518.10" y="672.13" width="28.00" height="28.00" fill="#75d054" stroke="#4a4a4a" stroke-width="1.1"/>
<use href="#st" x="532.10" y="683.34"/>
<rect x="562.57" y="675.68" width="20.90" height="20.90" fill="#44bf70" stroke="#4a4a4a" stroke-width="1.1"/>
<rect x="606.29" y="678.49" width="15.30" height="15.30" fill="#25ab82" stroke="#4a4a4a" stroke-width="1.1"/>
<rect x="442.16" y="719.00" width="16.20" height="16.20" fill="#2b748e" stroke="#4a4a4a" stroke-width="1.1"/>
<rect x="484.33" y="720.25" width="13.70" height="13.70" fill="#24868e" stroke="#4a4a4a" stroke-width="1.1"/>
<rect x="521.50" y="716.50" width="21.20" height="21.20" fill="#44bf70" stroke="#4a4a4a" stroke-width="1.1"/>
<rect x="560.82" y="714.90" width="24.40" height="24.40" fill="#5ec962" stroke="#4a4a4a" stroke-width="1.1"/>
<rect x="602.69" y="715.86" width="22.50" height="22.50" fill="#4cc26c" stroke="#4a4a4a" stroke-width="1.1"/>
<rect x="442.41" y="760.23" width="15.70" height="15.70" fill="#2b748e" stroke="#4a4a4a" stroke-width="1.1"/>
<rect x="484.43" y="761.33" width="13.50" height="13.50" fill="#25848e" stroke="#4a4a4a" stroke-width="1.1"/>
<rect x="522.10" y="758.08" width="20.00" height="20.00" fill="#3bbb75" stroke="#4a4a4a" stroke-width="1.1"/>
<rect x="561.62" y="756.68" width="22.80" height="22.80" fill="#50c46a" stroke="#4a4a4a" stroke-width="1.1"/>
<rect x="603.34" y="757.48" width="21.20" height="21.20" fill="#44bf70" stroke="#4a4a4a" stroke-width="1.1"/>
<rect x="442.86" y="801.64" width="14.80" height="14.80" fill="#22a884" stroke="#4a4a4a" stroke-width="1.1"/>
<rect x="484.43" y="802.29" width="13.50" height="13.50" fill="#21a685" stroke="#4a4a4a" stroke-width="1.1"/>
<rect x="517.25" y="794.19" width="29.70" height="29.70" fill="#3e4a89" stroke="#4a4a4a" stroke-width="1.1"/>
<use href="#st" x="532.10" y="806.25"/>
<rect x="558.47" y="794.50" width="29.10" height="29.10" fill="#3c4f8a" stroke="#4a4a4a" stroke-width="1.1"/>
<use href="#st" x="573.02" y="806.25"/>
<rect x="598.59" y="793.69" width="30.70" height="30.70" fill="#424086" stroke="#4a4a4a" stroke-width="1.1"/>
<use href="#st" x="610.89" y="806.25"/>
<use href="#st" x="616.99" y="806.25"/>
<rect x="443.51" y="843.26" width="13.50" height="13.50" fill="#24868e" stroke="#4a4a4a" stroke-width="1.1"/>
<rect x="481.33" y="840.16" width="19.70" height="19.70" fill="#2c728e" stroke="#4a4a4a" stroke-width="1.1"/>
<rect x="526.20" y="844.12" width="11.80" height="11.80" fill="#228d8d" stroke="#4a4a4a" stroke-width="1.1"/>
<rect x="567.12" y="844.12" width="11.80" height="11.80" fill="#1fa287" stroke="#4a4a4a" stroke-width="1.1"/>
<rect x="604.64" y="840.72" width="18.60" height="18.60" fill="#32b67a" stroke="#4a4a4a" stroke-width="1.1"/>
<rect x="443.96" y="884.69" width="12.60" height="12.60" fill="#26828e" stroke="#4a4a4a" stroke-width="1.1"/>
<rect x="486.08" y="885.88" width="10.20" height="10.20" fill="#228d8d" stroke="#4a4a4a" stroke-width="1.1"/>
<rect x="527.30" y="886.19" width="9.60" height="9.60" fill="#1f9a8a" stroke="#4a4a4a" stroke-width="1.1"/>
<rect x="569.47" y="887.44" width="7.10" height="7.10" fill="#1f9a8a" stroke="#4a4a4a" stroke-width="1.1"/>
<rect x="609.59" y="886.63" width="8.70" height="8.70" fill="#1f988b" stroke="#4a4a4a" stroke-width="1.1"/>
<rect x="437.51" y="919.21" width="25.50" height="25.50" fill="#58c765" stroke="#4a4a4a" stroke-width="1.1"/>
<rect x="476.88" y="917.66" width="28.60" height="28.60" fill="#75d054" stroke="#4a4a4a" stroke-width="1.1"/>
<use href="#st" x="491.18" y="929.16"/>
<rect x="524.00" y="923.86" width="16.20" height="16.20" fill="#25ab82" stroke="#4a4a4a" stroke-width="1.1"/>
<rect x="562.72" y="921.66" width="20.60" height="20.60" fill="#2e6f8e" stroke="#4a4a4a" stroke-width="1.1"/>
<rect x="602.69" y="920.71" width="22.50" height="22.50" fill="#31688e" stroke="#4a4a4a" stroke-width="1.1"/>
<rect x="439.41" y="962.07" width="21.70" height="21.70" fill="#44bf70" stroke="#4a4a4a" stroke-width="1.1"/>
<rect x="480.48" y="962.22" width="21.40" height="21.40" fill="#44bf70" stroke="#4a4a4a" stroke-width="1.1"/>
<rect x="520.85" y="961.67" width="22.50" height="22.50" fill="#2f6c8e" stroke="#4a4a4a" stroke-width="1.1"/>
<rect x="558.62" y="958.52" width="28.80" height="28.80" fill="#3c4f8a" stroke="#4a4a4a" stroke-width="1.1"/>
<use href="#st" x="573.02" y="970.12"/>
<rect x="600.79" y="959.77" width="26.30" height="26.30" fill="#38598c" stroke="#4a4a4a" stroke-width="1.1"/>
<rect x="435.06" y="998.69" width="30.40" height="30.40" fill="#8bd646" stroke="#4a4a4a" stroke-width="1.1"/>
<use href="#st" x="450.26" y="1011.10"/>
<rect x="475.43" y="998.14" width="31.50" height="31.50" fill="#95d840" stroke="#4a4a4a" stroke-width="1.1"/>
<use href="#st" x="488.13" y="1011.10"/>
<use href="#st" x="494.23" y="1011.10"/>
<rect x="522.80" y="1004.60" width="18.60" height="18.60" fill="#297a8e" stroke="#4a4a4a" stroke-width="1.1"/>
<rect x="557.62" y="998.50" width="30.80" height="30.80" fill="#424086" stroke="#4a4a4a" stroke-width="1.1"/>
<use href="#st" x="569.97" y="1011.10"/>
<use href="#st" x="576.07" y="1011.10"/>
<rect x="598.14" y="998.10" width="31.60" height="31.60" fill="#443b84" stroke="#4a4a4a" stroke-width="1.1"/>
<use href="#st" x="610.89" y="1011.10"/>
<use href="#st" x="616.99" y="1011.10"/>
<rect x="435.16" y="1039.77" width="30.20" height="30.20" fill="#3e4a89" stroke="#4a4a4a" stroke-width="1.1"/>
<use href="#st" x="450.26" y="1052.07"/>
<rect x="475.38" y="1039.07" width="31.60" height="31.60" fill="#423f85" stroke="#4a4a4a" stroke-width="1.1"/>
<use href="#st" x="488.13" y="1052.07"/>
<use href="#st" x="494.23" y="1052.07"/>
<rect x="526.60" y="1049.37" width="11.00" height="11.00" fill="#1fa287" stroke="#4a4a4a" stroke-width="1.1"/>
<rect x="559.42" y="1041.27" width="27.20" height="27.20" fill="#6ccd5a" stroke="#4a4a4a" stroke-width="1.1"/>
<use href="#st" x="573.02" y="1052.07"/>
<rect x="599.54" y="1040.46" width="28.80" height="28.80" fill="#70cf57" stroke="#4a4a4a" stroke-width="1.1"/>
<use href="#st" x="613.94" y="1052.07"/>
<rect x="435.16" y="1080.73" width="30.20" height="30.20" fill="#404688" stroke="#4a4a4a" stroke-width="1.1"/>
<use href="#st" x="450.26" y="1093.03"/>
<rect x="475.78" y="1080.43" width="30.80" height="30.80" fill="#424086" stroke="#4a4a4a" stroke-width="1.1"/>
<use href="#st" x="488.13" y="1093.03"/>
<use href="#st" x="494.23" y="1093.03"/>
<rect x="522.10" y="1085.83" width="20.00" height="20.00" fill="#38b977" stroke="#4a4a4a" stroke-width="1.1"/>
<rect x="557.47" y="1080.28" width="31.10" height="31.10" fill="#90d743" stroke="#4a4a4a" stroke-width="1.1"/>
<use href="#st" x="569.97" y="1093.03"/>
<use href="#st" x="576.07" y="1093.03"/>
<rect x="598.14" y="1080.03" width="31.60" height="31.60" fill="#9bd93c" stroke="#4a4a4a" stroke-width="1.1"/>
<use href="#st" x="610.89" y="1093.03"/>
<use href="#st" x="616.99" y="1093.03"/>
<rect x="444.91" y="1131.45" width="10.70" height="10.70" fill="#218e8d" stroke="#4a4a4a" stroke-width="1.1"/>
<rect x="482.08" y="1127.70" width="18.20" height="18.20" fill="#287c8e" stroke="#4a4a4a" stroke-width="1.1"/>
<rect x="523.20" y="1127.90" width="17.80" height="17.80" fill="#277e8e" stroke="#4a4a4a" stroke-width="1.1"/>
<rect x="570.42" y="1134.20" width="5.20" height="5.20" fill="#1f968b" stroke="#4a4a4a" stroke-width="1.1"/>
<rect x="606.94" y="1129.80" width="14.00" height="14.00" fill="#21a685" stroke="#4a4a4a" stroke-width="1.1"/>
<rect x="438.36" y="1165.87" width="23.80" height="23.80" fill="#2f6c8e" stroke="#4a4a4a" stroke-width="1.1"/>
<rect x="480.18" y="1166.77" width="22.00" height="22.00" fill="#2f6c8e" stroke="#4a4a4a" stroke-width="1.1"/>
<rect x="519.65" y="1165.32" width="24.90" height="24.90" fill="#5ec962" stroke="#4a4a4a" stroke-width="1.1"/>
<rect x="558.47" y="1163.22" width="29.10" height="29.10" fill="#7ad151" stroke="#4a4a4a" stroke-width="1.1"/>
<use href="#st" x="573.02" y="1174.97"/>
<rect x="600.04" y="1163.87" width="27.80" height="27.80" fill="#69cd5b" stroke="#4a4a4a" stroke-width="1.1"/>
<use href="#st" x="613.94" y="1174.97"/>
<rect x="445.71" y="1214.19" width="9.10" height="9.10" fill="#1f9a8a" stroke="#4a4a4a" stroke-width="1.1"/>
<rect x="483.63" y="1211.19" width="15.10" height="15.10" fill="#25ab82" stroke="#4a4a4a" stroke-width="1.1"/>
<rect x="518.75" y="1205.39" width="26.70" height="26.70" fill="#63cb5f" stroke="#4a4a4a" stroke-width="1.1"/>
<rect x="562.72" y="1208.44" width="20.60" height="20.60" fill="#37b878" stroke="#4a4a4a" stroke-width="1.1"/>
<rect x="606.14" y="1210.94" width="15.60" height="15.60" fill="#25ab82" stroke="#4a4a4a" stroke-width="1.1"/>
<rect x="435.06" y="1244.51" width="30.40" height="30.40" fill="#3e4a89" stroke="#4a4a4a" stroke-width="1.1"/>
<use href="#st" x="450.26" y="1256.91"/>
<rect x="476.18" y="1244.71" width="30.00" height="30.00" fill="#3e4a89" stroke="#4a4a4a" stroke-width="1.1"/>
<use href="#st" x="491.18" y="1256.91"/>
<rect x="522.05" y="1249.66" width="20.10" height="20.10" fill="#38b977" stroke="#4a4a4a" stroke-width="1.1"/>
<rect x="557.67" y="1244.37" width="30.70" height="30.70" fill="#90d743" stroke="#4a4a4a" stroke-width="1.1"/>
<use href="#st" x="569.97" y="1256.91"/>
<use href="#st" x="576.07" y="1256.91"/>
<rect x="598.14" y="1243.91" width="31.60" height="31.60" fill="#9bd93c" stroke="#4a4a4a" stroke-width="1.1"/>
<use href="#st" x="610.89" y="1256.91"/>
<use href="#st" x="616.99" y="1256.91"/>
<rect x="439.86" y="1290.28" width="20.80" height="20.80" fill="#3fbc73" stroke="#4a4a4a" stroke-width="1.1"/>
<rect x="481.88" y="1291.38" width="18.60" height="18.60" fill="#32b67a" stroke="#4a4a4a" stroke-width="1.1"/>
<rect x="524.15" y="1292.73" width="15.90" height="15.90" fill="#25848e" stroke="#4a4a4a" stroke-width="1.1"/>
<rect x="562.42" y="1290.09" width="21.20" height="21.20" fill="#2f6c8e" stroke="#4a4a4a" stroke-width="1.1"/>
<rect x="603.94" y="1290.68" width="20.00" height="20.00" fill="#2c728e" stroke="#4a4a4a" stroke-width="1.1"/>
<rect x="443.66" y="1335.06" width="13.20" height="13.20" fill="#20a386" stroke="#4a4a4a" stroke-width="1.1"/>
<rect x="486.63" y="1337.11" width="9.10" height="9.10" fill="#1f978b" stroke="#4a4a4a" stroke-width="1.1"/>
<rect x="524.85" y="1334.40" width="14.50" height="14.50" fill="#25ab82" stroke="#4a4a4a" stroke-width="1.1"/>
<rect x="568.22" y="1336.86" width="9.60" height="9.60" fill="#21918c" stroke="#4a4a4a" stroke-width="1.1"/>
<rect x="611.74" y="1339.45" width="4.40" height="4.40" fill="#1f9a8a" stroke="#4a4a4a" stroke-width="1.1"/>
<rect x="437.36" y="1369.72" width="25.80" height="25.80" fill="#65cb5e" stroke="#4a4a4a" stroke-width="1.1"/>
<rect x="476.73" y="1368.17" width="28.90" height="28.90" fill="#7ad151" stroke="#4a4a4a" stroke-width="1.1"/>
<use href="#st" x="491.18" y="1379.82"/>
<rect x="529.50" y="1380.02" width="5.20" height="5.20" fill="#20928c" stroke="#4a4a4a" stroke-width="1.1"/>
<rect x="560.22" y="1369.82" width="25.60" height="25.60" fill="#375b8d" stroke="#4a4a4a" stroke-width="1.1"/>
<rect x="599.84" y="1368.52" width="28.20" height="28.20" fill="#3b528b" stroke="#4a4a4a" stroke-width="1.1"/>
<use href="#st" x="613.94" y="1379.82"/>
<rect x="444.91" y="1418.24" width="10.70" height="10.70" fill="#1fa188" stroke="#4a4a4a" stroke-width="1.1"/>
<rect x="482.53" y="1414.94" width="17.30" height="17.30" fill="#28ae80" stroke="#4a4a4a" stroke-width="1.1"/>
<rect x="523.45" y="1414.94" width="17.30" height="17.30" fill="#29af7f" stroke="#4a4a4a" stroke-width="1.1"/>
<rect x="568.22" y="1418.79" width="9.60" height="9.60" fill="#20a486" stroke="#4a4a4a" stroke-width="1.1"/>
<rect x="607.39" y="1417.04" width="13.10" height="13.10" fill="#238a8d" stroke="#4a4a4a" stroke-width="1.1"/>
<path d="M678.50 51.10V1444.08M719.42 51.10V1444.08M760.34 51.10V1444.08M801.26 51.10V1444.08M842.18 51.10V1444.08M883.10 51.10V1444.08M678.50 51.10H883.10M678.50 92.07H883.10M678.50 133.04H883.10M678.50 174.01H883.10M678.50 214.98H883.10M678.50 255.95H883.10M678.50 296.92H883.10M678.50 337.89H883.10M678.50 378.86H883.10M678.50 419.83H883.10M678.50 460.80H883.10M678.50 501.77H883.10M678.50 542.74H883.10M678.50 583.71H883.10M678.50 624.68H883.10M678.50 665.65H883.10M678.50 706.62H883.10M678.50 747.59H883.10M678.50 788.56H883.10M678.50 829.53H883.10M678.50 870.50H883.10M678.50 911.47H883.10M678.50 952.44H883.10M678.50 993.41H883.10M678.50 1034.38H883.10M678.50 1075.35H883.10M678.50 1116.32H883.10M678.50 1157.29H883.10M678.50 1198.26H883.10M678.50 1239.23H883.10M678.50 1280.20H883.10M678.50 1321.17H883.10M678.50 1362.14H883.10M678.50 1403.11H883.10M678.50 1444.08H883.10" stroke="#8d8d8d" stroke-width="1.5" fill="none"/>
<rect x="696.61" y="69.24" width="4.70" height="4.70" fill="#1f9a8a" stroke="#4a4a4a" stroke-width="1.1"/>
<rect x="732.23" y="63.94" width="15.30" height="15.30" fill="#24868e" stroke="#4a4a4a" stroke-width="1.1"/>
<rect x="768.90" y="59.69" width="23.80" height="23.80" fill="#31688e" stroke="#4a4a4a" stroke-width="1.1"/>
<rect x="813.92" y="63.79" width="15.60" height="15.60" fill="#24868e" stroke="#4a4a4a" stroke-width="1.1"/>
<rect x="858.09" y="67.04" width="9.10" height="9.10" fill="#218e8d" stroke="#4a4a4a" stroke-width="1.1"/>
<rect x="697.16" y="110.76" width="3.60" height="3.60" fill="#1f9a8a" stroke="#4a4a4a" stroke-width="1.1"/>
<rect x="737.68" y="110.36" width="4.40" height="4.40" fill="#21918c" stroke="#4a4a4a" stroke-width="1.1"/>
<rect x="779.15" y="110.91" width="3.30" height="3.30" fill="#218e8d" stroke="#4a4a4a" stroke-width="1.1"/>
<rect x="818.97" y="109.81" width="5.50" height="5.50" fill="#1e9c89" stroke="#4a4a4a" stroke-width="1.1"/>
<rect x="857.39" y="107.31" width="10.50" height="10.50" fill="#1fa287" stroke="#4a4a4a" stroke-width="1.1"/>
<rect x="687.16" y="141.72" width="23.60" height="23.60" fill="#31688e" stroke="#4a4a4a" stroke-width="1.1"/>
<rect x="728.63" y="142.28" width="22.50" height="22.50" fill="#31688e" stroke="#4a4a4a" stroke-width="1.1"/>
<rect x="777.90" y="150.62" width="5.80" height="5.80" fill="#1f968b" stroke="#4a4a4a" stroke-width="1.1"/>
<rect x="811.72" y="143.53" width="20.00" height="20.00" fill="#38b977" stroke="#4a4a4a" stroke-width="1.1"/>
<rect x="852.34" y="143.22" width="20.60" height="20.60" fill="#3bbb75" stroke="#4a4a4a" stroke-width="1.1"/>
<rect x="693.71" y="189.24" width="10.50" height="10.50" fill="#1fa287" stroke="#4a4a4a" stroke-width="1.1"/>
<rect x="734.13" y="188.74" width="11.50" height="11.50" fill="#22a884" stroke="#4a4a4a" stroke-width="1.1"/>
<rect x="775.30" y="188.99" width="11.00" height="11.00" fill="#228d8d" stroke="#4a4a4a" stroke-width="1.1"/>
<rect x="818.42" y="191.19" width="6.60" height="6.60" fill="#1e9c89" stroke="#4a4a4a" stroke-width="1.1"/>
<rect x="859.04" y="190.89" width="7.20" height="7.20" fill="#228d8d" stroke="#4a4a4a" stroke-width="1.1"/>
<rect x="693.31" y="229.81" width="11.30" height="11.30" fill="#218e8d" stroke="#4a4a4a" stroke-width="1.1"/>
<rect x="734.28" y="229.87" width="11.20" height="11.20" fill="#218e8d" stroke="#4a4a4a" stroke-width="1.1"/>
<rect x="774.20" y="228.87" width="13.20" height="13.20" fill="#25ab82" stroke="#4a4a4a" stroke-width="1.1"/>
<rect x="811.67" y="225.41" width="20.10" height="20.10" fill="#38b977" stroke="#4a4a4a" stroke-width="1.1"/>
<rect x="854.09" y="226.91" width="17.10" height="17.10" fill="#28ae80" stroke="#4a4a4a" stroke-width="1.1"/>
<rect x="690.46" y="267.94" width="17.00" height="17.00" fill="#2b758e" stroke="#4a4a4a" stroke-width="1.1"/>
<rect x="733.98" y="270.54" width="11.80" height="11.80" fill="#238a8d" stroke="#4a4a4a" stroke-width="1.1"/>
<rect x="776.65" y="272.29" width="8.30" height="8.30" fill="#1f9f88" stroke="#4a4a4a" stroke-width="1.1"/>
<rect x="816.12" y="270.83" width="11.20" height="11.20" fill="#1fa287" stroke="#4a4a4a" stroke-width="1.1"/>
<rect x="857.29" y="271.08" width="10.70" height="10.70" fill="#1fa287" stroke="#4a4a4a" stroke-width="1.1"/>
<rect x="693.46" y="311.91" width="11.00" height="11.00" fill="#238a8d" stroke="#4a4a4a" stroke-width="1.1"/>
<rect x="735.53" y="313.06" width="8.70" height="8.70" fill="#228d8d" stroke="#4a4a4a" stroke-width="1.1"/>
<rect x="776.65" y="313.26" width="8.30" height="8.30" fill="#228d8d" stroke="#4a4a4a" stroke-width="1.1"/>
<rect x="814.42" y="310.11" width="14.60" height="14.60" fill="#22a884" stroke="#4a4a4a" stroke-width="1.1"/>
<rect x="858.09" y="312.86" width="9.10" height="9.10" fill="#1fa088" stroke="#4a4a4a" stroke-width="1.1"/>
<rect x="691.66" y="351.07" width="14.60" height="14.60" fill="#21a685" stroke="#4a4a4a" stroke-width="1.1"/>
<rect x="730.03" y="348.52" width="19.70" height="19.70" fill="#35b779" stroke="#4a4a4a" stroke-width="1.1"/>
<rect x="766.95" y="344.52" width="27.70" height="27.70" fill="#75d054" stroke="#4a4a4a" stroke-width="1.1"/>
<use href="#st" x="780.80" y="355.57"/>
<rect x="811.67" y="348.32" width="20.10" height="20.10" fill="#37b878" stroke="#4a4a4a" stroke-width="1.1"/>
<rect x="856.09" y="351.82" width="13.10" height="13.10" fill="#20a486" stroke="#4a4a4a" stroke-width="1.1"/>
<rect x="691.26" y="391.65" width="15.40" height="15.40" fill="#25ab82" stroke="#4a4a4a" stroke-width="1.1"/>
<rect x="729.28" y="388.75" width="21.20" height="21.20" fill="#3dbc74" stroke="#4a4a4a" stroke-width="1.1"/>
<rect x="766.50" y="385.05" width="28.60" height="28.60" fill="#7ad151" stroke="#4a4a4a" stroke-width="1.1"/>
<use href="#st" x="780.80" y="396.55"/>
<rect x="811.67" y="389.30" width="20.10" height="20.10" fill="#38b977" stroke="#4a4a4a" stroke-width="1.1"/>
<rect x="856.44" y="393.15" width="12.40" height="12.40" fill="#20a486" stroke="#4a4a4a" stroke-width="1.1"/>
<rect x="692.76" y="434.12" width="12.40" height="12.40" fill="#1fa287" stroke="#4a4a4a" stroke-width="1.1"/>
<rect x="730.43" y="430.87" width="18.90" height="18.90" fill="#32b67a" stroke="#4a4a4a" stroke-width="1.1"/>
<rect x="766.35" y="425.87" width="28.90" height="28.90" fill="#7ad151" stroke="#4a4a4a" stroke-width="1.1"/>
<use href="#st" x="780.80" y="437.51"/>
<rect x="811.12" y="429.71" width="21.20" height="21.20" fill="#3fbc73" stroke="#4a4a4a" stroke-width="1.1"/>
<rect x="854.99" y="432.67" width="15.30" height="15.30" fill="#25ab82" stroke="#4a4a4a" stroke-width="1.1"/>
<rect x="694.06" y="476.39" width="9.80" height="9.80" fill="#1f9f88" stroke="#4a4a4a" stroke-width="1.1"/>
<rect x="731.13" y="472.54" width="17.50" height="17.50" fill="#2fb47c" stroke="#4a4a4a" stroke-width="1.1"/>
<rect x="772.05" y="472.54" width="17.50" height="17.50" fill="#2fb47c" stroke="#4a4a4a" stroke-width="1.1"/>
<rect x="816.12" y="475.69" width="11.20" height="11.20" fill="#1fa088" stroke="#4a4a4a" stroke-width="1.1"/>
<rect x="856.74" y="475.39" width="11.80" height="11.80" fill="#1f9f88" stroke="#4a4a4a" stroke-width="1.1"/>
<rect x="686.21" y="509.50" width="25.50" height="25.50" fill="#33628d" stroke="#4a4a4a" stroke-width="1.1"/>
<rect x="727.53" y="509.90" width="24.70" height="24.70" fill="#33638d" stroke="#4a4a4a" stroke-width="1.1"/>
<rect x="769.55" y="511.00" width="22.50" height="22.50" fill="#4cc26c" stroke="#4a4a4a" stroke-width="1.1"/>
<rect x="809.82" y="510.36" width="23.80" height="23.80" fill="#56c667" stroke="#4a4a4a" stroke-width="1.1"/>
<rect x="850.44" y="510.06" width="24.40" height="24.40" fill="#56c667" stroke="#4a4a4a" stroke-width="1.1"/>
<rect x="681.01" y="545.27" width="35.90" height="35.90" fill="#d5e21a" stroke="#4a4a4a" stroke-width="1.1"/>
<rect x="721.18" y="544.52" width="37.40" height="37.40" fill="#fde725" stroke="#4a4a4a" stroke-width="1.1"/>
<use href="#st" x="739.88" y="560.43"/>
<rect x="766.55" y="548.98" width="28.50" height="28.50" fill="#3c4f8a" stroke="#4a4a4a" stroke-width="1.1"/>
<rect x="803.57" y="545.08" width="36.30" height="36.30" fill="#482173" stroke="#4a4a4a" stroke-width="1.1"/>
<rect x="844.49" y="545.08" width="36.30" height="36.30" fill="#482173" stroke="#4a4a4a" stroke-width="1.1"/>
<rect x="680.26" y="585.50" width="37.40" height="37.40" fill="#481c6e" stroke="#4a4a4a" stroke-width="1.1"/>
<rect x="720.78" y="585.10" width="38.20" height="38.20" fill="#440154" stroke="#4a4a4a" stroke-width="1.1"/>
<use href="#st" x="739.88" y="601.40"/>
<rect x="765.05" y="588.45" width="31.50" height="31.50" fill="#9bd93c" stroke="#4a4a4a" stroke-width="1.1"/>
<rect x="803.57" y="586.05" width="36.30" height="36.30" fill="#eae51a" stroke="#4a4a4a" stroke-width="1.1"/>
<rect x="844.34" y="585.90" width="36.60" height="36.60" fill="#eae51a" stroke="#4a4a4a" stroke-width="1.1"/>
<rect x="695.96" y="642.16" width="6.00" height="6.00" fill="#1f968b" stroke="#4a4a4a" stroke-width="1.1"/>
<rect x="732.88" y="638.16" width="14.00" height="14.00" fill="#22a884" stroke="#4a4a4a" stroke-width="1.1"/>
<rect x="767.60" y="631.96" width="26.40" height="26.40" fill="#5ec962" stroke="#4a4a4a" stroke-width="1.1"/>
<rect x="811.87" y="635.31" width="19.70" height="19.70" fill="#32b67a" stroke="#4a4a4a" stroke-width="1.1"/>
<rect x="853.59" y="636.12" width="18.10" height="18.10" fill="#2cb17e" stroke="#4a4a4a" stroke-width="1.1"/>
<rect x="693.16" y="680.34" width="11.60" height="11.60" fill="#1fa287" stroke="#4a4a4a" stroke-width="1.1"/>
<rect x="730.98" y="677.24" width="17.80" height="17.80" fill="#2fb47c" stroke="#4a4a4a" stroke-width="1.1"/>
<rect x="766.80" y="672.13" width="28.00" height="28.00" fill="#75d054" stroke="#4a4a4a" stroke-width="1.1"/>
<use href="#st" x="780.80" y="683.34"/>
<rect x="811.27" y="675.68" width="20.90" height="20.90" fill="#44bf70" stroke="#4a4a4a" stroke-width="1.1"/>
<rect x="854.99" y="678.49" width="15.30" height="15.30" fill="#25ab82" stroke="#4a4a4a" stroke-width="1.1"/>
<rect x="690.86" y="719.00" width="16.20" height="16.20" fill="#2b748e" stroke="#4a4a4a" stroke-width="1.1"/>
<rect x="733.03" y="720.25" width="13.70" height="13.70" fill="#24868e" stroke="#4a4a4a" stroke-width="1.1"/>
<rect x="770.20" y="716.50" width="21.20" height="21.20" fill="#44bf70" stroke="#4a4a4a" stroke-width="1.1"/>
<rect x="809.52" y="714.90" width="24.40" height="24.40" fill="#5ec962" stroke="#4a4a4a" stroke-width="1.1"/>
<rect x="851.39" y="715.86" width="22.50" height="22.50" fill="#4cc26c" stroke="#4a4a4a" stroke-width="1.1"/>
<rect x="691.11" y="760.23" width="15.70" height="15.70" fill="#2b748e" stroke="#4a4a4a" stroke-width="1.1"/>
<rect x="733.13" y="761.33" width="13.50" height="13.50" fill="#25848e" stroke="#4a4a4a" stroke-width="1.1"/>
<rect x="770.80" y="758.08" width="20.00" height="20.00" fill="#3bbb75" stroke="#4a4a4a" stroke-width="1.1"/>
<rect x="810.32" y="756.68" width="22.80" height="22.80" fill="#50c46a" stroke="#4a4a4a" stroke-width="1.1"/>
<rect x="852.04" y="757.48" width="21.20" height="21.20" fill="#44bf70" stroke="#4a4a4a" stroke-width="1.1"/>
<rect x="691.56" y="801.64" width="14.80" height="14.80" fill="#22a884" stroke="#4a4a4a" stroke-width="1.1"/>
<rect x="733.13" y="802.29" width="13.50" height="13.50" fill="#21a685" stroke="#4a4a4a" stroke-width="1.1"/>
<rect x="765.95" y="794.19" width="29.70" height="29.70" fill="#3e4a89" stroke="#4a4a4a" stroke-width="1.1"/>
<use href="#st" x="780.80" y="806.25"/>
<rect x="807.17" y="794.50" width="29.10" height="29.10" fill="#3c4f8a" stroke="#4a4a4a" stroke-width="1.1"/>
<use href="#st" x="821.72" y="806.25"/>
<rect x="847.29" y="793.69" width="30.70" height="30.70" fill="#424086" stroke="#4a4a4a" stroke-width="1.1"/>
<use href="#st" x="859.59" y="806.25"/>
<use href="#st" x="865.69" y="806.25"/>
<rect x="692.21" y="843.26" width="13.50" height="13.50" fill="#24868e" stroke="#4a4a4a" stroke-width="1.1"/>
<rect x="730.03" y="840.16" width="19.70" height="19.70" fill="#2c728e" stroke="#4a4a4a" stroke-width="1.1"/>
<rect x="774.90" y="844.12" width="11.80" height="11.80" fill="#228d8d" stroke="#4a4a4a" stroke-width="1.1"/>
<rect x="815.82" y="844.12" width="11.80" height="11.80" fill="#1fa287" stroke="#4a4a4a" stroke-width="1.1"/>
<rect x="853.34" y="840.72" width="18.60" height="18.60" fill="#32b67a" stroke="#4a4a4a" stroke-width="1.1"/>
<rect x="692.66" y="884.69" width="12.60" height="12.60" fill="#26828e" stroke="#4a4a4a" stroke-width="1.1"/>
<rect x="734.78" y="885.88" width="10.20" height="10.20" fill="#228d8d" stroke="#4a4a4a" stroke-width="1.1"/>
<rect x="776.00" y="886.19" width="9.60" height="9.60" fill="#1f9a8a" stroke="#4a4a4a" stroke-width="1.1"/>
<rect x="818.17" y="887.44" width="7.10" height="7.10" fill="#1f9a8a" stroke="#4a4a4a" stroke-width="1.1"/>
<rect x="858.29" y="886.63" width="8.70" height="8.70" fill="#1f988b" stroke="#4a4a4a" stroke-width="1.1"/>
<rect x="686.21" y="919.21" width="25.50" height="25.50" fill="#58c765" stroke="#4a4a4a" stroke-width="1.1"/>
<rect x="725.58" y="917.66" width="28.60" height="28.60" fill="#75d054" stroke="#4a4a4a" stroke-width="1.1"/>
<use href="#st" x="739.88" y="929.16"/>
<rect x="772.70" y="923.86" width="16.20" height="16.20" fill="#25ab82" stroke="#4a4a4a" stroke-width="1.1"/>
<rect x="811.42" y="921.66" width="20.60" height="20.60" fill="#2e6f8e" stroke="#4a4a4a" stroke-width="1.1"/>
<rect x="851.39" y="920.71" width="22.50" height="22.50" fill="#31688e" stroke="#4a4a4a" stroke-width="1.1"/>
<rect x="688.11" y="962.07" width="21.70" height="21.70" fill="#44bf70" stroke="#4a4a4a" stroke-width="1.1"/>
<rect x="729.18" y="962.22" width="21.40" height="21.40" fill="#44bf70" stroke="#4a4a4a" stroke-width="1.1"/>
<rect x="769.55" y="961.67" width="22.50" height="22.50" fill="#2f6c8e" stroke="#4a4a4a" stroke-width="1.1"/>
<rect x="807.32" y="958.52" width="28.80" height="28.80" fill="#3c4f8a" stroke="#4a4a4a" stroke-width="1.1"/>
<use href="#st" x="821.72" y="970.12"/>
<rect x="849.49" y="959.77" width="26.30" height="26.30" fill="#38598c" stroke="#4a4a4a" stroke-width="1.1"/>
<rect x="683.76" y="998.69" width="30.40" height="30.40" fill="#8bd646" stroke="#4a4a4a" stroke-width="1.1"/>
<use href="#st" x="698.96" y="1011.10"/>
<rect x="724.13" y="998.14" width="31.50" height="31.50" fill="#95d840" stroke="#4a4a4a" stroke-width="1.1"/>
<use href="#st" x="736.83" y="1011.10"/>
<use href="#st" x="742.93" y="1011.10"/>
<rect x="771.50" y="1004.60" width="18.60" height="18.60" fill="#297a8e" stroke="#4a4a4a" stroke-width="1.1"/>
<rect x="806.32" y="998.50" width="30.80" height="30.80" fill="#424086" stroke="#4a4a4a" stroke-width="1.1"/>
<use href="#st" x="818.67" y="1011.10"/>
<use href="#st" x="824.77" y="1011.10"/>
<rect x="846.84" y="998.10" width="31.60" height="31.60" fill="#443b84" stroke="#4a4a4a" stroke-width="1.1"/>
<use href="#st" x="859.59" y="1011.10"/>
<use href="#st" x="865.69" y="1011.10"/>
<rect x="683.86" y="1039.77" width="30.20" height="30.20" fill="#3e4a89" stroke="#4a4a4a" stroke-width="1.1"/>
<use href="#st" x="698.96" y="1052.07"/>
<rect x="724.08" y="1039.07" width="31.60" height="31.60" fill="#423f85" stroke="#4a4a4a" stroke-width="1.1"/>
<use href="#st" x="736.83" y="1052.07"/>
<use href="#st" x="742.93" y="1052.07"/>
<rect x="775.30" y="1049.37" width="11.00" height="11.00" fill="#1fa287" stroke="#4a4a4a" stroke-width="1.1"/>
<rect x="808.12" y="1041.27" width="27.20" height="27.20" fill="#6ccd5a" stroke="#4a4a4a" stroke-width="1.1"/>
<use href="#st" x="821.72" y="1052.07"/>
<rect x="848.24" y="1040.46" width="28.80" height="28.80" fill="#70cf57" stroke="#4a4a4a" stroke-width="1.1"/>
<use href="#st" x="862.64" y="1052.07"/>
<rect x="683.86" y="1080.73" width="30.20" height="30.20" fill="#404688" stroke="#4a4a4a" stroke-width="1.1"/>
<use href="#st" x="698.96" y="1093.03"/>
<rect x="724.48" y="1080.43" width="30.80" height="30.80" fill="#424086" stroke="#4a4a4a" stroke-width="1.1"/>
<use href="#st" x="736.83" y="1093.03"/>
<use href="#st" x="742.93" y="1093.03"/>
<rect x="770.80" y="1085.83" width="20.00" height="20.00" fill="#38b977" stroke="#4a4a4a" stroke-width="1.1"/>
<rect x="806.17" y="1080.28" width="31.10" height="31.10" fill="#90d743" stroke="#4a4a4a" stroke-width="1.1"/>
<use href="#st" x="818.67" y="1093.03"/>
<use href="#st" x="824.77" y="1093.03"/>
<rect x="846.84" y="1080.03" width="31.60" height="31.60" fill="#9bd93c" stroke="#4a4a4a" stroke-width="1.1"/>
<use href="#st" x="859.59" y="1093.03"/>
<use href="#st" x="865.69" y="1093.03"/>
<rect x="693.61" y="1131.45" width="10.70" height="10.70" fill="#218e8d" stroke="#4a4a4a" stroke-width="1.1"/>
<rect x="730.78" y="1127.70" width="18.20" height="18.20" fill="#287c8e" stroke="#4a4a4a" stroke-width="1.1"/>
<rect x="771.90" y="1127.90" width="17.80" height="17.80" fill="#277e8e" stroke="#4a4a4a" stroke-width="1.1"/>
<rect x="819.12" y="1134.20" width="5.20" height="5.20" fill="#1f968b" stroke="#4a4a4a" stroke-width="1.1"/>
<rect x="855.64" y="1129.80" width="14.00" height="14.00" fill="#21a685" stroke="#4a4a4a" stroke-width="1.1"/>
<rect x="687.06" y="1165.87" width="23.80" height="23.80" fill="#2f6c8e" stroke="#4a4a4a" stroke-width="1.1"/>
<rect x="728.88" y="1166.77" width="22.00" height="22.00" fill="#2f6c8e" stroke="#4a4a4a" stroke-width="1.1"/>
<rect x="768.35" y="1165.32" width="24.90" height="24.90" fill="#5ec962" stroke="#4a4a4a" stroke-width="1.1"/>
<rect x="807.17" y="1163.22" width="29.10" height="29.10" fill="#7ad151" stroke="#4a4a4a" stroke-width="1.1"/>
<use href="#st" x="821.72" y="1174.97"/>
<rect x="848.74" y="1163.87" width="27.80" height="27.80" fill="#69cd5b" stroke="#4a4a4a" stroke-width="1.1"/>
<use href="#st" x="862.64" y="1174.97"/>
<rect x="694.41" y="1214.19" width="9.10" height="9.10" fill="#1f9a8a" stroke="#4a4a4a" stroke-width="1.1"/>
<rect x="732.33" y="1211.19" width="15.10" height="15.10" fill="#25ab82" stroke="#4a4a4a" stroke-width="1.1"/>
<rect x="767.45" y="1205.39" width="26.70" height="26.70" fill="#63cb5f" stroke="#4a4a4a" stroke-width="1.1"/>
<rect x="811.42" y="1208.44" width="20.60" height="20.60" fill="#37b878" stroke="#4a4a4a" stroke-width="1.1"/>
<rect x="854.84" y="1210.94" width="15.60" height="15.60" fill="#25ab82" stroke="#4a4a4a" stroke-width="1.1"/>
<rect x="683.76" y="1244.51" width="30.40" height="30.40" fill="#3e4a89" stroke="#4a4a4a" stroke-width="1.1"/>
<use href="#st" x="698.96" y="1256.91"/>
<rect x="724.88" y="1244.71" width="30.00" height="30.00" fill="#3e4a89" stroke="#4a4a4a" stroke-width="1.1"/>
<use href="#st" x="739.88" y="1256.91"/>
<rect x="770.75" y="1249.66" width="20.10" height="20.10" fill="#38b977" stroke="#4a4a4a" stroke-width="1.1"/>
<rect x="806.37" y="1244.37" width="30.70" height="30.70" fill="#90d743" stroke="#4a4a4a" stroke-width="1.1"/>
<use href="#st" x="818.67" y="1256.91"/>
<use href="#st" x="824.77" y="1256.91"/>
<rect x="846.84" y="1243.91" width="31.60" height="31.60" fill="#9bd93c" stroke="#4a4a4a" stroke-width="1.1"/>
<use href="#st" x="859.59" y="1256.91"/>
<use href="#st" x="865.69" y="1256.91"/>
<rect x="688.56" y="1290.28" width="20.80" height="20.80" fill="#3fbc73" stroke="#4a4a4a" stroke-width="1.1"/>
<rect x="730.58" y="1291.38" width="18.60" height="18.60" fill="#32b67a" stroke="#4a4a4a" stroke-width="1.1"/>
<rect x="772.85" y="1292.73" width="15.90" height="15.90" fill="#25848e" stroke="#4a4a4a" stroke-width="1.1"/>
<rect x="811.12" y="1290.09" width="21.20" height="21.20" fill="#2f6c8e" stroke="#4a4a4a" stroke-width="1.1"/>
<rect x="852.64" y="1290.68" width="20.00" height="20.00" fill="#2c728e" stroke="#4a4a4a" stroke-width="1.1"/>
<rect x="692.36" y="1335.06" width="13.20" height="13.20" fill="#20a386" stroke="#4a4a4a" stroke-width="1.1"/>
<rect x="735.33" y="1337.11" width="9.10" height="9.10" fill="#1f978b" stroke="#4a4a4a" stroke-width="1.1"/>
<rect x="773.55" y="1334.40" width="14.50" height="14.50" fill="#25ab82" stroke="#4a4a4a" stroke-width="1.1"/>
<rect x="816.92" y="1336.86" width="9.60" height="9.60" fill="#21918c" stroke="#4a4a4a" stroke-width="1.1"/>
<rect x="860.44" y="1339.45" width="4.40" height="4.40" fill="#1f9a8a" stroke="#4a4a4a" stroke-width="1.1"/>
<rect x="686.06" y="1369.72" width="25.80" height="25.80" fill="#65cb5e" stroke="#4a4a4a" stroke-width="1.1"/>
<rect x="725.43" y="1368.17" width="28.90" height="28.90" fill="#7ad151" stroke="#4a4a4a" stroke-width="1.1"/>
<use href="#st" x="739.88" y="1379.82"/>
<rect x="778.20" y="1380.02" width="5.20" height="5.20" fill="#20928c" stroke="#4a4a4a" stroke-width="1.1"/>
<rect x="808.92" y="1369.82" width="25.60" height="25.60" fill="#375b8d" stroke="#4a4a4a" stroke-width="1.1"/>
<rect x="848.54" y="1368.52" width="28.20" height="28.20" fill="#3b528b" stroke="#4a4a4a" stroke-width="1.1"/>
<use href="#st" x="862.64" y="1379.82"/>
<rect x="693.61" y="1418.24" width="10.70" height="10.70" fill="#1fa188" stroke="#4a4a4a" stroke-width="1.1"/>
<rect x="731.23" y="1414.94" width="17.30" height="17.30" fill="#28ae80" stroke="#4a4a4a" stroke-width="1.1"/>
<rect x="772.15" y="1414.94" width="17.30" height="17.30" fill="#29af7f" stroke="#4a4a4a" stroke-width="1.1"/>
<rect x="816.92" y="1418.79" width="9.60" height="9.60" fill="#20a486" stroke="#4a4a4a" stroke-width="1.1"/>
<rect x="856.09" y="1417.04" width="13.10" height="13.10" fill="#238a8d" stroke="#4a4a4a" stroke-width="1.1"/>
<path d="M927.20 51.10V1444.08M968.12 51.10V1444.08M1009.04 51.10V1444.08M1049.96 51.10V1444.08M1090.88 51.10V1444.08M1131.80 51.10V1444.08M927.20 51.10H1131.80M927.20 92.07H1131.80M927.20 133.04H1131.80M927.20 174.01H1131.80M927.20 214.98H1131.80M927.20 255.95H1131.80M927.20 296.92H1131.80M927.20 337.89H1131.80M927.20 378.86H1131.80M927.20 419.83H1131.80M927.20 460.80H1131.80M927.20 501.77H1131.80M927.20 542.74H1131.80M927.20 583.71H1131.80M927.20 624.68H1131.80M927.20 665.65H1131.80M927.20 706.62H1131.80M927.20 747.59H1131.80M927.20 788.56H1131.80M927.20 829.53H1131.80M927.20 870.50H1131.80M927.20 911.47H1131.80M927.20 952.44H1131.80M927.20 993.41H1131.80M927.20 1034.38H1131.80M927.20 1075.35H1131.80M927.20 1116.32H1131.80M927.20 1157.29H1131.80M927.20 1198.26H1131.80M927.20 1239.23H1131.80M927.20 1280.20H1131.80M927.20 1321.17H1131.80M927.20 1362.14H1131.80M927.20 1403.11H1131.80M927.20 1444.08H1131.80" stroke="#8d8d8d" stroke-width="1.5" fill="none"/>
<rect x="943.66" y="67.59" width="8.00" height="8.00" fill="#1f9a8a" stroke="#4a4a4a" stroke-width="1.1"/>
<rect x="984.58" y="67.59" width="8.00" height="8.00" fill="#1f9a8a" stroke="#4a4a4a" stroke-width="1.1"/>
<rect x="1024.70" y="66.79" width="9.60" height="9.60" fill="#21918c" stroke="#4a4a4a" stroke-width="1.1"/>
<rect x="1068.47" y="69.64" width="3.90" height="3.90" fill="#20928c" stroke="#4a4a4a" stroke-width="1.1"/>
<rect x="1109.29" y="69.54" width="4.10" height="4.10" fill="#20928c" stroke="#4a4a4a" stroke-width="1.1"/>
<rect x="944.91" y="109.81" width="5.50" height="5.50" fill="#1f968b" stroke="#4a4a4a" stroke-width="1.1"/>
<rect x="982.23" y="106.21" width="12.70" height="12.70" fill="#1fa287" stroke="#4a4a4a" stroke-width="1.1"/>
<rect x="1013.85" y="96.91" width="31.30" height="31.30" fill="#414487" stroke="#4a4a4a" stroke-width="1.1"/>
<use href="#st" x="1023.40" y="109.76"/>
<use href="#st" x="1029.50" y="109.76"/>
<use href="#st" x="1035.60" y="109.76"/>
<rect x="1055.87" y="98.01" width="29.10" height="29.10" fill="#3d4e8a" stroke="#4a4a4a" stroke-width="1.1"/>
<use href="#st" x="1064.32" y="109.76"/>
<use href="#st" x="1070.42" y="109.76"/>
<use href="#st" x="1076.52" y="109.76"/>
<rect x="1096.54" y="97.76" width="29.60" height="29.60" fill="#3e4a89" stroke="#4a4a4a" stroke-width="1.1"/>
<use href="#st" x="1105.24" y="109.76"/>
<use href="#st" x="1111.34" y="109.76"/>
<use href="#st" x="1117.44" y="109.76"/>
<rect x="940.66" y="146.53" width="14.00" height="14.00" fill="#23888e" stroke="#4a4a4a" stroke-width="1.1"/>
<rect x="981.58" y="146.53" width="14.00" height="14.00" fill="#23888e" stroke="#4a4a4a" stroke-width="1.1"/>
<rect x="1018.10" y="142.12" width="22.80" height="22.80" fill="#31688e" stroke="#4a4a4a" stroke-width="1.1"/>
<use href="#st" x="1026.45" y="150.72"/>
<use href="#st" x="1032.55" y="150.72"/>
<rect x="1062.32" y="145.43" width="16.20" height="16.20" fill="#26828e" stroke="#4a4a4a" stroke-width="1.1"/>
<rect x="1103.24" y="145.43" width="16.20" height="16.20" fill="#26828e" stroke="#4a4a4a" stroke-width="1.1"/>
<rect x="944.91" y="191.74" width="5.50" height="5.50" fill="#1f988b" stroke="#4a4a4a" stroke-width="1.1"/>
<rect x="983.23" y="189.14" width="10.70" height="10.70" fill="#218e8d" stroke="#4a4a4a" stroke-width="1.1"/>
<rect x="1019.65" y="184.64" width="19.70" height="19.70" fill="#2ab07f" stroke="#4a4a4a" stroke-width="1.1"/>
<rect x="1062.57" y="186.64" width="15.70" height="15.70" fill="#25ab82" stroke="#4a4a4a" stroke-width="1.1"/>
<rect x="1102.69" y="185.84" width="17.30" height="17.30" fill="#25ab82" stroke="#4a4a4a" stroke-width="1.1"/>
<rect x="937.21" y="225.02" width="20.90" height="20.90" fill="#306a8e" stroke="#4a4a4a" stroke-width="1.1"/>
<use href="#st" x="947.66" y="232.66"/>
<rect x="976.88" y="223.77" width="23.40" height="23.40" fill="#31668e" stroke="#4a4a4a" stroke-width="1.1"/>
<use href="#st" x="985.53" y="232.66"/>
<use href="#st" x="991.63" y="232.66"/>
<rect x="1019.65" y="225.62" width="19.70" height="19.70" fill="#2ab07f" stroke="#4a4a4a" stroke-width="1.1"/>
<use href="#st" x="1029.50" y="232.66"/>
<rect x="1059.32" y="224.37" width="22.20" height="22.20" fill="#3bbb75" stroke="#4a4a4a" stroke-width="1.1"/>
<use href="#st" x="1070.42" y="232.66"/>
<rect x="1099.69" y="223.81" width="23.30" height="23.30" fill="#3dbc74" stroke="#4a4a4a" stroke-width="1.1"/>
<use href="#st" x="1108.29" y="232.66"/>
<use href="#st" x="1114.39" y="232.66"/>
<rect x="941.76" y="270.54" width="11.80" height="11.80" fill="#218e8d" stroke="#4a4a4a" stroke-width="1.1"/>
<rect x="984.43" y="272.29" width="8.30" height="8.30" fill="#1f9a8a" stroke="#4a4a4a" stroke-width="1.1"/>
<rect x="1014.95" y="261.88" width="29.10" height="29.10" fill="#3d4e8a" stroke="#4a4a4a" stroke-width="1.1"/>
<use href="#st" x="1023.40" y="273.63"/>
<use href="#st" x="1029.50" y="273.63"/>
<use href="#st" x="1035.60" y="273.63"/>
<rect x="1057.97" y="263.99" width="24.90" height="24.90" fill="#33628d" stroke="#4a4a4a" stroke-width="1.1"/>
<use href="#st" x="1067.37" y="273.63"/>
<use href="#st" x="1073.47" y="273.63"/>
<rect x="1098.59" y="263.69" width="25.50" height="25.50" fill="#33628d" stroke="#4a4a4a" stroke-width="1.1"/>
<use href="#st" x="1108.29" y="273.63"/>
<use href="#st" x="1114.39" y="273.63"/>
<rect x="942.31" y="312.06" width="10.70" height="10.70" fill="#238a8d" stroke="#4a4a4a" stroke-width="1.1"/>
<rect x="980.03" y="308.86" width="17.10" height="17.10" fill="#297a8e" stroke="#4a4a4a" stroke-width="1.1"/>
<rect x="1016.70" y="304.61" width="25.60" height="25.60" fill="#48c16e" stroke="#4a4a4a" stroke-width="1.1"/>
<use href="#st" x="1026.45" y="314.61"/>
<use href="#st" x="1032.55" y="314.61"/>
<rect x="1058.77" y="305.76" width="23.30" height="23.30" fill="#44bf70" stroke="#4a4a4a" stroke-width="1.1"/>
<use href="#st" x="1067.37" y="314.61"/>
<use href="#st" x="1073.47" y="314.61"/>
<rect x="1099.29" y="305.36" width="24.10" height="24.10" fill="#44bf70" stroke="#4a4a4a" stroke-width="1.1"/>
<use href="#st" x="1108.29" y="314.61"/>
<use href="#st" x="1114.39" y="314.61"/>
<rect x="939.31" y="350.02" width="16.70" height="16.70" fill="#1fa287" stroke="#4a4a4a" stroke-width="1.1"/>
<rect x="981.68" y="351.48" width="13.80" height="13.80" fill="#1f9f88" stroke="#4a4a4a" stroke-width="1.1"/>
<rect x="1014.95" y="343.82" width="29.10" height="29.10" fill="#63cb5f" stroke="#4a4a4a" stroke-width="1.1"/>
<use href="#st" x="1023.40" y="355.57"/>
<use href="#st" x="1029.50" y="355.57"/>
<use href="#st" x="1035.60" y="355.57"/>
<rect x="1058.77" y="346.73" width="23.30" height="23.30" fill="#44bf70" stroke="#4a4a4a" stroke-width="1.1"/>
<use href="#st" x="1067.37" y="355.57"/>
<use href="#st" x="1073.47" y="355.57"/>
<rect x="1099.29" y="346.32" width="24.10" height="24.10" fill="#44bf70" stroke="#4a4a4a" stroke-width="1.1"/>
<use href="#st" x="1108.29" y="355.57"/>
<use href="#st" x="1114.39" y="355.57"/>
<rect x="943.66" y="395.35" width="8.00" height="8.00" fill="#1f9a8a" stroke="#4a4a4a" stroke-width="1.1"/>
<rect x="987.58" y="398.35" width="2.00" height="2.00" fill="#21918c" stroke="#4a4a4a" stroke-width="1.1"/>
<rect x="1014.65" y="384.50" width="29.70" height="29.70" fill="#69cd5b" stroke="#4a4a4a" stroke-width="1.1"/>
<use href="#st" x="1023.40" y="396.55"/>
<use href="#st" x="1029.50" y="396.55"/>
<use href="#st" x="1035.60" y="396.55"/>
<rect x="1056.67" y="385.60" width="27.50" height="27.50" fill="#58c765" stroke="#4a4a4a" stroke-width="1.1"/>
<use href="#st" x="1064.32" y="396.55"/>
<use href="#st" x="1070.42" y="396.55"/>
<use href="#st" x="1076.52" y="396.55"/>
<rect x="1097.49" y="385.50" width="27.70" height="27.70" fill="#58c765" stroke="#4a4a4a" stroke-width="1.1"/>
<use href="#st" x="1105.24" y="396.55"/>
<use href="#st" x="1111.34" y="396.55"/>
<use href="#st" x="1117.44" y="396.55"/>
<rect x="942.71" y="435.37" width="9.90" height="9.90" fill="#1f9a8a" stroke="#4a4a4a" stroke-width="1.1"/>
<rect x="985.38" y="437.12" width="6.40" height="6.40" fill="#1f988b" stroke="#4a4a4a" stroke-width="1.1"/>
<rect x="1014.65" y="425.46" width="29.70" height="29.70" fill="#69cd5b" stroke="#4a4a4a" stroke-width="1.1"/>
<use href="#st" x="1023.40" y="437.51"/>
<use href="#st" x="1029.50" y="437.51"/>
<use href="#st" x="1035.60" y="437.51"/>
<rect x="1056.67" y="426.56" width="27.50" height="27.50" fill="#58c765" stroke="#4a4a4a" stroke-width="1.1"/>
<use href="#st" x="1064.32" y="437.51"/>
<use href="#st" x="1070.42" y="437.51"/>
<use href="#st" x="1076.52" y="437.51"/>
<rect x="1097.49" y="426.46" width="27.70" height="27.70" fill="#58c765" stroke="#4a4a4a" stroke-width="1.1"/>
<use href="#st" x="1105.24" y="437.51"/>
<use href="#st" x="1111.34" y="437.51"/>
<use href="#st" x="1117.44" y="437.51"/>
<rect x="943.66" y="477.29" width="8.00" height="8.00" fill="#218e8d" stroke="#4a4a4a" stroke-width="1.1"/>
<rect x="983.13" y="475.84" width="10.90" height="10.90" fill="#238a8d" stroke="#4a4a4a" stroke-width="1.1"/>
<rect x="1015.75" y="467.54" width="27.50" height="27.50" fill="#5ec962" stroke="#4a4a4a" stroke-width="1.1"/>
<use href="#st" x="1023.40" y="478.49"/>
<use href="#st" x="1029.50" y="478.49"/>
<use href="#st" x="1035.60" y="478.49"/>
<rect x="1057.07" y="467.94" width="26.70" height="26.70" fill="#58c765" stroke="#4a4a4a" stroke-width="1.1"/>
<use href="#st" x="1064.32" y="478.49"/>
<use href="#st" x="1070.42" y="478.49"/>
<use href="#st" x="1076.52" y="478.49"/>
<rect x="1097.99" y="467.94" width="26.70" height="26.70" fill="#58c765" stroke="#4a4a4a" stroke-width="1.1"/>
<use href="#st" x="1105.24" y="478.49"/>
<use href="#st" x="1111.34" y="478.49"/>
<use href="#st" x="1117.44" y="478.49"/>
<rect x="945.06" y="519.65" width="5.20" height="5.20" fill="#1f988b" stroke="#4a4a4a" stroke-width="1.1"/>
<rect x="986.78" y="520.46" width="3.60" height="3.60" fill="#1f988b" stroke="#4a4a4a" stroke-width="1.1"/>
<rect x="1022.65" y="515.40" width="13.70" height="13.70" fill="#1fa287" stroke="#4a4a4a" stroke-width="1.1"/>
<rect x="1065.62" y="517.46" width="9.60" height="9.60" fill="#1e9c89" stroke="#4a4a4a" stroke-width="1.1"/>
<rect x="1106.64" y="517.55" width="9.40" height="9.40" fill="#1e9c89" stroke="#4a4a4a" stroke-width="1.1"/>
<rect x="940.36" y="555.93" width="14.60" height="14.60" fill="#21a685" stroke="#4a4a4a" stroke-width="1.1"/>
<rect x="980.73" y="555.38" width="15.70" height="15.70" fill="#22a884" stroke="#4a4a4a" stroke-width="1.1"/>
<rect x="1025.50" y="559.23" width="8.00" height="8.00" fill="#1f988b" stroke="#4a4a4a" stroke-width="1.1"/>
<rect x="1065.87" y="558.68" width="9.10" height="9.10" fill="#1f9a8a" stroke="#4a4a4a" stroke-width="1.1"/>
<rect x="1106.39" y="558.27" width="9.90" height="9.90" fill="#1f968b" stroke="#4a4a4a" stroke-width="1.1"/>
<rect x="943.86" y="600.40" width="7.60" height="7.60" fill="#1f988b" stroke="#4a4a4a" stroke-width="1.1"/>
<rect x="984.78" y="600.40" width="7.60" height="7.60" fill="#1fa088" stroke="#4a4a4a" stroke-width="1.1"/>
<rect x="1017.00" y="591.70" width="25.00" height="25.00" fill="#31688e" stroke="#4a4a4a" stroke-width="1.1"/>
<use href="#st" x="1026.45" y="601.40"/>
<use href="#st" x="1032.55" y="601.40"/>
<rect x="1058.62" y="592.40" width="23.60" height="23.60" fill="#31688e" stroke="#4a4a4a" stroke-width="1.1"/>
<use href="#st" x="1067.37" y="601.40"/>
<use href="#st" x="1073.47" y="601.40"/>
<rect x="1099.39" y="592.25" width="23.90" height="23.90" fill="#31688e" stroke="#4a4a4a" stroke-width="1.1"/>
<use href="#st" x="1108.29" y="601.40"/>
<use href="#st" x="1114.39" y="601.40"/>
<rect x="945.61" y="643.12" width="4.10" height="4.10" fill="#20928c" stroke="#4a4a4a" stroke-width="1.1"/>
<rect x="984.58" y="641.16" width="8.00" height="8.00" fill="#218e8d" stroke="#4a4a4a" stroke-width="1.1"/>
<rect x="1015.10" y="630.76" width="28.80" height="28.80" fill="#63cb5f" stroke="#4a4a4a" stroke-width="1.1"/>
<use href="#st" x="1023.40" y="642.37"/>
<use href="#st" x="1029.50" y="642.37"/>
<use href="#st" x="1035.60" y="642.37"/>
<rect x="1057.42" y="632.16" width="26.00" height="26.00" fill="#52c569" stroke="#4a4a4a" stroke-width="1.1"/>
<use href="#st" x="1064.32" y="642.37"/>
<use href="#st" x="1070.42" y="642.37"/>
<use href="#st" x="1076.52" y="642.37"/>
<rect x="1098.29" y="632.12" width="26.10" height="26.10" fill="#52c569" stroke="#4a4a4a" stroke-width="1.1"/>
<use href="#st" x="1105.24" y="642.37"/>
<use href="#st" x="1111.34" y="642.37"/>
<use href="#st" x="1117.44" y="642.37"/>
<rect x="938.46" y="676.93" width="18.40" height="18.40" fill="#25ab82" stroke="#4a4a4a" stroke-width="1.1"/>
<rect x="980.78" y="678.34" width="15.60" height="15.60" fill="#22a884" stroke="#4a4a4a" stroke-width="1.1"/>
<rect x="1017.00" y="673.63" width="25.00" height="25.00" fill="#48c16e" stroke="#4a4a4a" stroke-width="1.1"/>
<use href="#st" x="1023.40" y="683.34"/>
<use href="#st" x="1029.50" y="683.34"/>
<use href="#st" x="1035.60" y="683.34"/>
<rect x="1061.37" y="677.09" width="18.10" height="18.10" fill="#25ab82" stroke="#4a4a4a" stroke-width="1.1"/>
<rect x="1101.69" y="676.49" width="19.30" height="19.30" fill="#29af7f" stroke="#4a4a4a" stroke-width="1.1"/>
<rect x="940.36" y="719.81" width="14.60" height="14.60" fill="#1fa287" stroke="#4a4a4a" stroke-width="1.1"/>
<rect x="982.83" y="721.36" width="11.50" height="11.50" fill="#1fa088" stroke="#4a4a4a" stroke-width="1.1"/>
<rect x="1014.65" y="712.25" width="29.70" height="29.70" fill="#7ad151" stroke="#4a4a4a" stroke-width="1.1"/>
<use href="#st" x="1023.40" y="724.31"/>
<use href="#st" x="1029.50" y="724.31"/>
<use href="#st" x="1035.60" y="724.31"/>
<rect x="1057.37" y="714.06" width="26.10" height="26.10" fill="#58c765" stroke="#4a4a4a" stroke-width="1.1"/>
<use href="#st" x="1064.32" y="724.31"/>
<use href="#st" x="1070.42" y="724.31"/>
<use href="#st" x="1076.52" y="724.31"/>
<rect x="1098.14" y="713.90" width="26.40" height="26.40" fill="#58c765" stroke="#4a4a4a" stroke-width="1.1"/>
<use href="#st" x="1105.24" y="724.31"/>
<use href="#st" x="1111.34" y="724.31"/>
<use href="#st" x="1117.44" y="724.31"/>
<rect x="942.86" y="763.28" width="9.60" height="9.60" fill="#228d8d" stroke="#4a4a4a" stroke-width="1.1"/>
<rect x="983.93" y="763.43" width="9.30" height="9.30" fill="#238a8d" stroke="#4a4a4a" stroke-width="1.1"/>
<rect x="1019.65" y="758.23" width="19.70" height="19.70" fill="#2ab07f" stroke="#4a4a4a" stroke-width="1.1"/>
<rect x="1060.12" y="757.78" width="20.60" height="20.60" fill="#2fb47c" stroke="#4a4a4a" stroke-width="1.1"/>
<use href="#st" x="1070.42" y="765.28"/>
<rect x="1100.89" y="757.62" width="20.90" height="20.90" fill="#2fb47c" stroke="#4a4a4a" stroke-width="1.1"/>
<use href="#st" x="1111.34" y="765.28"/>
<rect x="939.16" y="800.54" width="17.00" height="17.00" fill="#277e8e" stroke="#4a4a4a" stroke-width="1.1"/>
<rect x="982.38" y="802.84" width="12.40" height="12.40" fill="#238a8d" stroke="#4a4a4a" stroke-width="1.1"/>
<rect x="1021.70" y="801.25" width="15.60" height="15.60" fill="#25848e" stroke="#4a4a4a" stroke-width="1.1"/>
<rect x="1069.42" y="808.04" width="2.00" height="2.00" fill="#21918c" stroke="#4a4a4a" stroke-width="1.1"/>
<rect x="1109.14" y="806.84" width="4.40" height="4.40" fill="#1f988b" stroke="#4a4a4a" stroke-width="1.1"/>
<rect x="938.91" y="841.26" width="17.50" height="17.50" fill="#25ab82" stroke="#4a4a4a" stroke-width="1.1"/>
<rect x="982.53" y="843.97" width="12.10" height="12.10" fill="#1fa088" stroke="#4a4a4a" stroke-width="1.1"/>
<rect x="1023.75" y="844.26" width="11.50" height="11.50" fill="#1fa287" stroke="#4a4a4a" stroke-width="1.1"/>
<rect x="1069.42" y="849.01" width="2.00" height="2.00" fill="#21918c" stroke="#4a4a4a" stroke-width="1.1"/>
<rect x="1109.14" y="847.81" width="4.40" height="4.40" fill="#1f988b" stroke="#4a4a4a" stroke-width="1.1"/>
<rect x="941.76" y="885.09" width="11.80" height="11.80" fill="#1fa287" stroke="#4a4a4a" stroke-width="1.1"/>
<rect x="982.43" y="884.84" width="12.30" height="12.30" fill="#20a486" stroke="#4a4a4a" stroke-width="1.1"/>
<rect x="1020.75" y="882.24" width="17.50" height="17.50" fill="#26828e" stroke="#4a4a4a" stroke-width="1.1"/>
<rect x="1059.72" y="880.28" width="21.40" height="21.40" fill="#2c728e" stroke="#4a4a4a" stroke-width="1.1"/>
<use href="#st" x="1070.42" y="888.19"/>
<rect x="1100.79" y="880.44" width="21.10" height="21.10" fill="#2c728e" stroke="#4a4a4a" stroke-width="1.1"/>
<use href="#st" x="1111.34" y="888.19"/>
<rect x="942.31" y="926.61" width="10.70" height="10.70" fill="#218e8d" stroke="#4a4a4a" stroke-width="1.1"/>
<rect x="984.78" y="928.16" width="7.60" height="7.60" fill="#20928c" stroke="#4a4a4a" stroke-width="1.1"/>
<rect x="1020.75" y="923.21" width="17.50" height="17.50" fill="#25ab82" stroke="#4a4a4a" stroke-width="1.1"/>
<rect x="1061.67" y="923.21" width="17.50" height="17.50" fill="#25ab82" stroke="#4a4a4a" stroke-width="1.1"/>
<rect x="1103.24" y="923.86" width="16.20" height="16.20" fill="#22a884" stroke="#4a4a4a" stroke-width="1.1"/>
<rect x="942.86" y="968.12" width="9.60" height="9.60" fill="#1f9a8a" stroke="#4a4a4a" stroke-width="1.1"/>
<rect x="982.83" y="967.17" width="11.50" height="11.50" fill="#1fa287" stroke="#4a4a4a" stroke-width="1.1"/>
<rect x="1013.70" y="957.12" width="31.60" height="31.60" fill="#404688" stroke="#4a4a4a" stroke-width="1.1"/>
<use href="#st" x="1023.40" y="970.12"/>
<use href="#st" x="1029.50" y="970.12"/>
<use href="#st" x="1035.60" y="970.12"/>
<rect x="1056.27" y="958.77" width="28.30" height="28.30" fill="#3b528b" stroke="#4a4a4a" stroke-width="1.1"/>
<use href="#st" x="1064.32" y="970.12"/>
<use href="#st" x="1070.42" y="970.12"/>
<use href="#st" x="1076.52" y="970.12"/>
<rect x="1097.19" y="958.77" width="28.30" height="28.30" fill="#3b528b" stroke="#4a4a4a" stroke-width="1.1"/>
<use href="#st" x="1105.24" y="970.12"/>
<use href="#st" x="1111.34" y="970.12"/>
<use href="#st" x="1117.44" y="970.12"/>
<rect x="937.21" y="1003.44" width="20.90" height="20.90" fill="#32b67a" stroke="#4a4a4a" stroke-width="1.1"/>
<use href="#st" x="947.66" y="1011.10"/>
<rect x="977.98" y="1003.29" width="21.20" height="21.20" fill="#32b67a" stroke="#4a4a4a" stroke-width="1.1"/>
<use href="#st" x="988.58" y="1011.10"/>
<rect x="1014.55" y="998.94" width="29.90" height="29.90" fill="#3d4e8a" stroke="#4a4a4a" stroke-width="1.1"/>
<use href="#st" x="1023.40" y="1011.10"/>
<use href="#st" x="1029.50" y="1011.10"/>
<use href="#st" x="1035.60" y="1011.10"/>
<rect x="1054.67" y="998.14" width="31.50" height="31.50" fill="#414487" stroke="#4a4a4a" stroke-width="1.1"/>
<use href="#st" x="1064.32" y="1011.10"/>
<use href="#st" x="1070.42" y="1011.10"/>
<use href="#st" x="1076.52" y="1011.10"/>
<rect x="1095.94" y="998.50" width="30.80" height="30.80" fill="#414487" stroke="#4a4a4a" stroke-width="1.1"/>
<use href="#st" x="1105.24" y="1011.10"/>
<use href="#st" x="1111.34" y="1011.10"/>
<use href="#st" x="1117.44" y="1011.10"/>
<rect x="936.81" y="1044.02" width="21.70" height="21.70" fill="#2d708e" stroke="#4a4a4a" stroke-width="1.1"/>
<use href="#st" x="947.66" y="1052.07"/>
<rect x="978.13" y="1044.41" width="20.90" height="20.90" fill="#2c728e" stroke="#4a4a4a" stroke-width="1.1"/>
<use href="#st" x="988.58" y="1052.07"/>
<rect x="1025.70" y="1051.07" width="7.60" height="7.60" fill="#1f968b" stroke="#4a4a4a" stroke-width="1.1"/>
<rect x="1063.72" y="1048.16" width="13.40" height="13.40" fill="#21a685" stroke="#4a4a4a" stroke-width="1.1"/>
<rect x="1104.59" y="1048.12" width="13.50" height="13.50" fill="#21a685" stroke="#4a4a4a" stroke-width="1.1"/>
<rect x="936.81" y="1084.98" width="21.70" height="21.70" fill="#2f6c8e" stroke="#4a4a4a" stroke-width="1.1"/>
<use href="#st" x="947.66" y="1093.03"/>
<rect x="977.48" y="1084.73" width="22.20" height="22.20" fill="#2f6c8e" stroke="#4a4a4a" stroke-width="1.1"/>
<use href="#st" x="988.58" y="1093.03"/>
<rect x="1013.95" y="1080.28" width="31.10" height="31.10" fill="#81d34d" stroke="#4a4a4a" stroke-width="1.1"/>
<use href="#st" x="1023.40" y="1093.03"/>
<use href="#st" x="1029.50" y="1093.03"/>
<use href="#st" x="1035.60" y="1093.03"/>
<rect x="1054.47" y="1079.88" width="31.90" height="31.90" fill="#81d34d" stroke="#4a4a4a" stroke-width="1.1"/>
<use href="#st" x="1064.32" y="1093.03"/>
<use href="#st" x="1070.42" y="1093.03"/>
<use href="#st" x="1076.52" y="1093.03"/>
<rect x="1095.44" y="1079.93" width="31.80" height="31.80" fill="#81d34d" stroke="#4a4a4a" stroke-width="1.1"/>
<use href="#st" x="1105.24" y="1093.03"/>
<use href="#st" x="1111.34" y="1093.03"/>
<use href="#st" x="1117.44" y="1093.03"/>
<rect x="939.56" y="1128.70" width="16.20" height="16.20" fill="#25ab82" stroke="#4a4a4a" stroke-width="1.1"/>
<rect x="979.68" y="1127.90" width="17.80" height="17.80" fill="#25ab82" stroke="#4a4a4a" stroke-width="1.1"/>
<rect x="1019.65" y="1126.95" width="19.70" height="19.70" fill="#2a788e" stroke="#4a4a4a" stroke-width="1.1"/>
<rect x="1059.82" y="1126.20" width="21.20" height="21.20" fill="#2c728e" stroke="#4a4a4a" stroke-width="1.1"/>
<use href="#st" x="1070.42" y="1134.00"/>
<rect x="1100.64" y="1126.10" width="21.40" height="21.40" fill="#2c728e" stroke="#4a4a4a" stroke-width="1.1"/>
<use href="#st" x="1111.34" y="1134.00"/>
<rect x="936.81" y="1166.92" width="21.70" height="21.70" fill="#2f6c8e" stroke="#4a4a4a" stroke-width="1.1"/>
<use href="#st" x="947.66" y="1174.97"/>
<rect x="976.88" y="1166.07" width="23.40" height="23.40" fill="#31688e" stroke="#4a4a4a" stroke-width="1.1"/>
<use href="#st" x="985.53" y="1174.97"/>
<use href="#st" x="991.63" y="1174.97"/>
<rect x="1012.60" y="1160.87" width="33.80" height="33.80" fill="#a2da37" stroke="#4a4a4a" stroke-width="1.1"/>
<use href="#st" x="1023.40" y="1174.97"/>
<use href="#st" x="1029.50" y="1174.97"/>
<use href="#st" x="1035.60" y="1174.97"/>
<rect x="1053.52" y="1160.87" width="33.80" height="33.80" fill="#a2da37" stroke="#4a4a4a" stroke-width="1.1"/>
<use href="#st" x="1064.32" y="1174.97"/>
<use href="#st" x="1070.42" y="1174.97"/>
<use href="#st" x="1076.52" y="1174.97"/>
<rect x="1094.34" y="1160.77" width="34.00" height="34.00" fill="#a2da37" stroke="#4a4a4a" stroke-width="1.1"/>
<use href="#st" x="1105.24" y="1174.97"/>
<use href="#st" x="1111.34" y="1174.97"/>
<use href="#st" x="1117.44" y="1174.97"/>
<rect x="937.21" y="1208.29" width="20.90" height="20.90" fill="#2f6c8e" stroke="#4a4a4a" stroke-width="1.1"/>
<use href="#st" x="947.66" y="1215.94"/>
<rect x="977.48" y="1207.64" width="22.20" height="22.20" fill="#2f6c8e" stroke="#4a4a4a" stroke-width="1.1"/>
<use href="#st" x="988.58" y="1215.94"/>
<rect x="1013.70" y="1202.94" width="31.60" height="31.60" fill="#81d34d" stroke="#4a4a4a" stroke-width="1.1"/>
<use href="#st" x="1023.40" y="1215.94"/>
<use href="#st" x="1029.50" y="1215.94"/>
<use href="#st" x="1035.60" y="1215.94"/>
<rect x="1054.47" y="1202.79" width="31.90" height="31.90" fill="#81d34d" stroke="#4a4a4a" stroke-width="1.1"/>
<use href="#st" x="1064.32" y="1215.94"/>
<use href="#st" x="1070.42" y="1215.94"/>
<use href="#st" x="1076.52" y="1215.94"/>
<rect x="1095.44" y="1202.84" width="31.80" height="31.80" fill="#81d34d" stroke="#4a4a4a" stroke-width="1.1"/>
<use href="#st" x="1105.24" y="1215.94"/>
<use href="#st" x="1111.34" y="1215.94"/>
<use href="#st" x="1117.44" y="1215.94"/>
<rect x="934.51" y="1246.56" width="26.30" height="26.30" fill="#375b8d" stroke="#4a4a4a" stroke-width="1.1"/>
<use href="#st" x="941.56" y="1256.91"/>
<use href="#st" x="947.66" y="1256.91"/>
<use href="#st" x="953.76" y="1256.91"/>
<rect x="975.43" y="1246.56" width="26.30" height="26.30" fill="#375b8d" stroke="#4a4a4a" stroke-width="1.1"/>
<use href="#st" x="982.48" y="1256.91"/>
<use href="#st" x="988.58" y="1256.91"/>
<use href="#st" x="994.68" y="1256.91"/>
<rect x="1024.55" y="1254.76" width="9.90" height="9.90" fill="#1e9c89" stroke="#4a4a4a" stroke-width="1.1"/>
<rect x="1059.82" y="1249.12" width="21.20" height="21.20" fill="#2fb47c" stroke="#4a4a4a" stroke-width="1.1"/>
<use href="#st" x="1070.42" y="1256.91"/>
<rect x="1100.64" y="1249.01" width="21.40" height="21.40" fill="#2fb47c" stroke="#4a4a4a" stroke-width="1.1"/>
<use href="#st" x="1111.34" y="1256.91"/>
<rect x="943.81" y="1296.84" width="7.70" height="7.70" fill="#1e9c89" stroke="#4a4a4a" stroke-width="1.1"/>
<rect x="985.98" y="1298.09" width="5.20" height="5.20" fill="#1f9a8a" stroke="#4a4a4a" stroke-width="1.1"/>
<rect x="1022.80" y="1293.98" width="13.40" height="13.40" fill="#228d8d" stroke="#4a4a4a" stroke-width="1.1"/>
<rect x="1064.07" y="1294.34" width="12.70" height="12.70" fill="#238a8d" stroke="#4a4a4a" stroke-width="1.1"/>
<rect x="1104.79" y="1294.13" width="13.10" height="13.10" fill="#238a8d" stroke="#4a4a4a" stroke-width="1.1"/>
<rect x="942.86" y="1336.86" width="9.60" height="9.60" fill="#1f9a8a" stroke="#4a4a4a" stroke-width="1.1"/>
<rect x="982.43" y="1335.50" width="12.30" height="12.30" fill="#1f988b" stroke="#4a4a4a" stroke-width="1.1"/>
<rect x="1021.70" y="1333.86" width="15.60" height="15.60" fill="#22a884" stroke="#4a4a4a" stroke-width="1.1"/>
<rect x="1062.17" y="1333.40" width="16.50" height="16.50" fill="#22a884" stroke="#4a4a4a" stroke-width="1.1"/>
<rect x="1102.99" y="1333.31" width="16.70" height="16.70" fill="#22a884" stroke="#4a4a4a" stroke-width="1.1"/>
<rect x="940.76" y="1375.72" width="13.80" height="13.80" fill="#1fa287" stroke="#4a4a4a" stroke-width="1.1"/>
<rect x="980.48" y="1374.52" width="16.20" height="16.20" fill="#22a884" stroke="#4a4a4a" stroke-width="1.1"/>
<rect x="1018.40" y="1371.52" width="22.20" height="22.20" fill="#38b977" stroke="#4a4a4a" stroke-width="1.1"/>
<use href="#st" x="1029.50" y="1379.82"/>
<rect x="1060.57" y="1372.77" width="19.70" height="19.70" fill="#2ab07f" stroke="#4a4a4a" stroke-width="1.1"/>
<use href="#st" x="1070.42" y="1379.82"/>
<rect x="1101.69" y="1372.97" width="19.30" height="19.30" fill="#25ab82" stroke="#4a4a4a" stroke-width="1.1"/>
<rect x="941.11" y="1417.04" width="13.10" height="13.10" fill="#218e8d" stroke="#4a4a4a" stroke-width="1.1"/>
<rect x="981.73" y="1416.74" width="13.70" height="13.70" fill="#238a8d" stroke="#4a4a4a" stroke-width="1.1"/>
<rect x="1017.60" y="1411.69" width="23.80" height="23.80" fill="#31688e" stroke="#4a4a4a" stroke-width="1.1"/>
<use href="#st" x="1026.45" y="1420.79"/>
<use href="#st" x="1032.55" y="1420.79"/>
<rect x="1059.32" y="1412.49" width="22.20" height="22.20" fill="#2f6c8e" stroke="#4a4a4a" stroke-width="1.1"/>
<use href="#st" x="1070.42" y="1420.79"/>
<rect x="1100.64" y="1412.89" width="21.40" height="21.40" fill="#2e6f8e" stroke="#4a4a4a" stroke-width="1.1"/>
<use href="#st" x="1111.34" y="1420.79"/>
<g font-size="28.3" fill="#000" text-anchor="end">
<text transform="translate(211.16,1451.7) rotate(-90)" x="0" y="0">stability</text>
<text transform="translate(211.16,1563.2) rotate(-90)" x="0" y="0">Temporal</text>
<text transform="translate(252.08,1451.7) rotate(-90)" x="0" y="0">stability</text>
<text transform="translate(252.08,1563.2) rotate(-90)" x="0" y="0">temporal</text>
<text transform="translate(252.08,1691.2) rotate(-90)" x="0" y="0">Detrended</text>
<text transform="translate(293.00,1451.7) rotate(-90)" x="0" y="0">NDVI_mean</text>
<text transform="translate(333.92,1451.7) rotate(-90)" x="0" y="0">NDVI_SD</text>
<text transform="translate(374.84,1451.7) rotate(-90)" x="0" y="0">NDVI_SD</text>
<text transform="translate(374.84,1590.8) rotate(-90)" x="0" y="0">Detrended</text>
<text transform="translate(459.86,1451.7) rotate(-90)" x="0" y="0">stability</text>
<text transform="translate(459.86,1563.2) rotate(-90)" x="0" y="0">Temporal</text>
<text transform="translate(500.78,1451.7) rotate(-90)" x="0" y="0">stability</text>
<text transform="translate(500.78,1563.2) rotate(-90)" x="0" y="0">temporal</text>
<text transform="translate(500.78,1691.2) rotate(-90)" x="0" y="0">Detrended</text>
<text transform="translate(541.70,1451.7) rotate(-90)" x="0" y="0">NDVI_mean</text>
<text transform="translate(582.62,1451.7) rotate(-90)" x="0" y="0">NDVI_SD</text>
<text transform="translate(623.54,1451.7) rotate(-90)" x="0" y="0">NDVI_SD</text>
<text transform="translate(623.54,1590.8) rotate(-90)" x="0" y="0">Detrended</text>
<text transform="translate(708.56,1451.7) rotate(-90)" x="0" y="0">stability</text>
<text transform="translate(708.56,1563.2) rotate(-90)" x="0" y="0">Temporal</text>
<text transform="translate(749.48,1451.7) rotate(-90)" x="0" y="0">stability</text>
<text transform="translate(749.48,1563.2) rotate(-90)" x="0" y="0">temporal</text>
<text transform="translate(749.48,1691.2) rotate(-90)" x="0" y="0">Detrended</text>
<text transform="translate(790.40,1451.7) rotate(-90)" x="0" y="0">NDVI_mean</text>
<text transform="translate(831.32,1451.7) rotate(-90)" x="0" y="0">NDVI_SD</text>
<text transform="translate(872.24,1451.7) rotate(-90)" x="0" y="0">NDVI_SD</text>
<text transform="translate(872.24,1590.8) rotate(-90)" x="0" y="0">Detrended</text>
<text transform="translate(957.26,1451.7) rotate(-90)" x="0" y="0">stability</text>
<text transform="translate(957.26,1563.2) rotate(-90)" x="0" y="0">Temporal</text>
<text transform="translate(998.18,1451.7) rotate(-90)" x="0" y="0">stability</text>
<text transform="translate(998.18,1563.2) rotate(-90)" x="0" y="0">temporal</text>
<text transform="translate(998.18,1691.2) rotate(-90)" x="0" y="0">Detrended</text>
<text transform="translate(1039.10,1451.7) rotate(-90)" x="0" y="0">NDVI_mean</text>
<text transform="translate(1080.02,1451.7) rotate(-90)" x="0" y="0">NDVI_SD</text>
<text transform="translate(1120.94,1451.7) rotate(-90)" x="0" y="0">NDVI_SD</text>
<text transform="translate(1120.94,1590.8) rotate(-90)" x="0" y="0">Detrended</text>
</g>
<text x="1178" y="638.2" font-size="28.5" fill="#000">Spearman's r</text>
<rect x="1178.9" y="656.8" width="44.8" height="222.8" fill="url(#vg)"/>
<path d="M1178.9 712.5h8.5M1215.2 712.5h8.5" stroke="#fff" stroke-width="1"/>
<path d="M1178.9 768.3h8.5M1215.2 768.3h8.5" stroke="#fff" stroke-width="1"/>
<path d="M1178.9 824.3h8.5M1215.2 824.3h8.5" stroke="#fff" stroke-width="1"/>
<text x="1235.5" y="664.7" font-size="23" fill="#000">1.0</text>
<text x="1235.5" y="720.4" font-size="23" fill="#000">0.5</text>
<text x="1235.5" y="776.2" font-size="23" fill="#000">0.0</text>
<text x="1235.5" y="832.2" font-size="23" fill="#000">−0.5</text>
<text x="1235.5" y="887.5" font-size="23" fill="#000">−1.0</text>
</svg></body></html>
